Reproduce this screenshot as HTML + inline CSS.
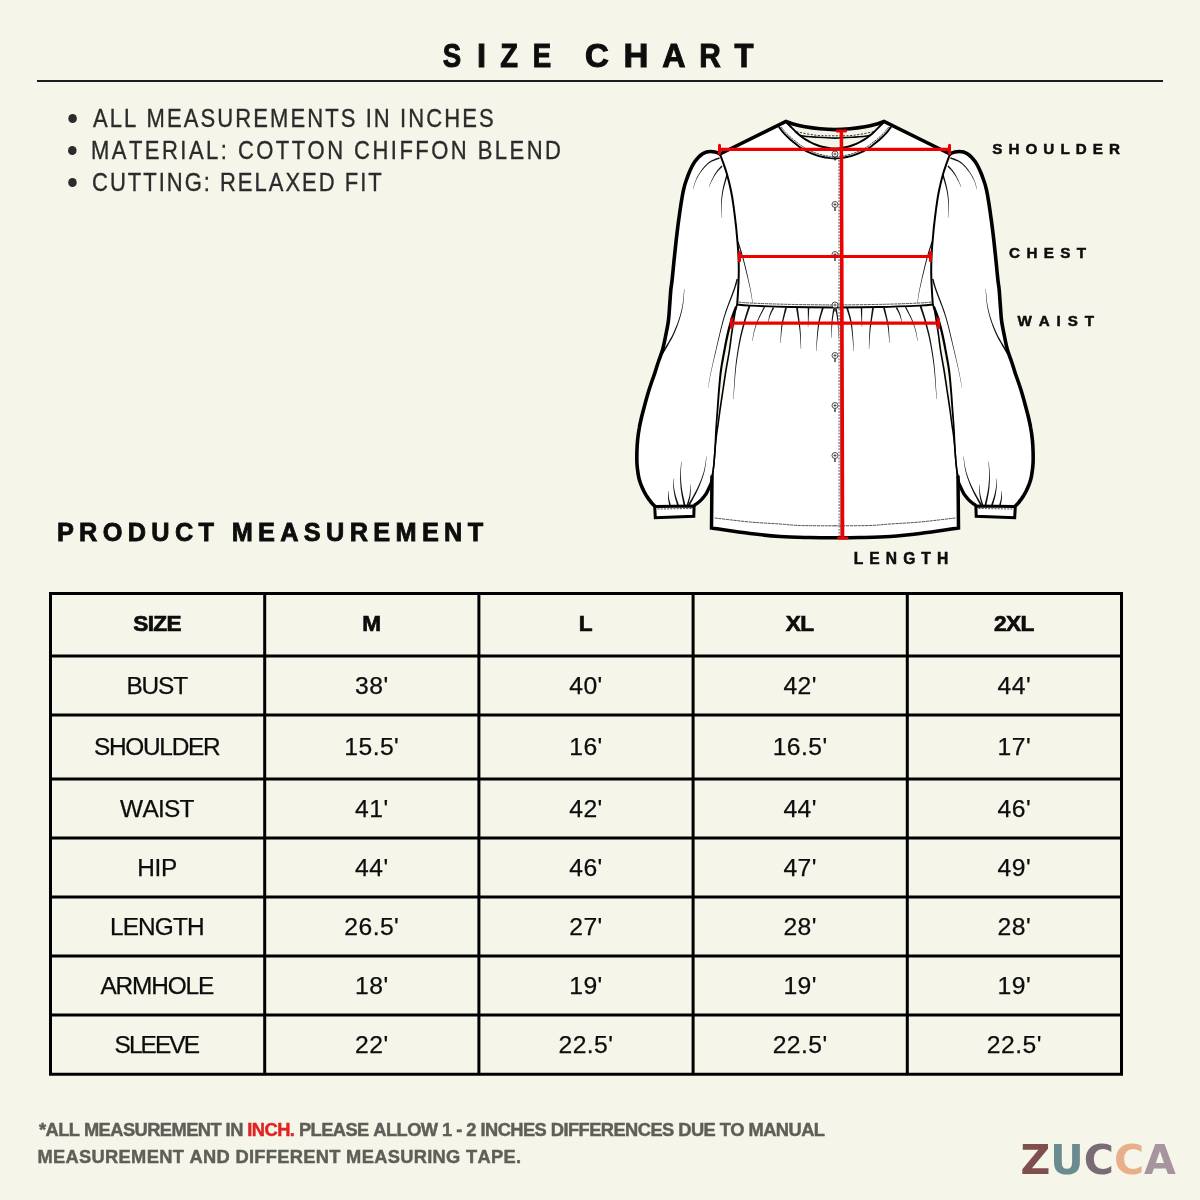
<!DOCTYPE html>
<html lang="en"><head><meta charset="utf-8"><title>Size Chart</title>
<style>
html,body{margin:0;padding:0}
body{width:1200px;height:1200px;position:relative;overflow:hidden;background:#f5f5ea;font-family:"Liberation Sans",sans-serif;font-kerning:none;-webkit-font-smoothing:antialiased}
.t{position:absolute;white-space:nowrap;line-height:1;margin:0}
.rule{position:absolute;left:37px;top:80px;width:1126px;height:2px;background:#1c1c1c}
.bul{list-style:none;margin:0;padding:0}
.bul li{position:absolute;white-space:nowrap;line-height:1;font-size:25.9px;color:#2b2b2b;-webkit-text-stroke:0.35px #2b2b2b}
.bul li i{position:absolute;width:8.6px;height:8.6px;border-radius:50%;background:#2b2b2b}
.red{color:#e02323}
.gar{position:absolute;left:0;top:0}
.logo{font-family:"DejaVu Sans","Liberation Sans",sans-serif;font-weight:700}
.h1{-webkit-text-stroke:1px #0d0d0d}
.h1 span{position:absolute;top:0;display:block}
.h2{-webkit-text-stroke:0.8px #0d0d0d}
.lab{-webkit-text-stroke:0.5px #0d0d0d}
.foot{-webkit-text-stroke:0.45px}
.tbl{position:absolute;left:50.5px;top:593.45px;width:1071px;border-collapse:collapse;border-spacing:0;table-layout:fixed;color:#0d0d0d;-webkit-text-stroke:0.25px #0d0d0d}
.tbl col{width:214.2px}
.tbl th,.tbl td{padding:0;margin:0;border:0;text-align:center;vertical-align:middle;white-space:nowrap;line-height:1;font-weight:400}
.tbl .h{font-weight:700;font-size:22.6px;letter-spacing:-0.6px;-webkit-text-stroke:0.7px #0d0d0d;padding-right:1px}
.tbl .k{font-size:24.4px;padding:1.4px 0 0 0}
.tbl .n{font-size:24.7px;letter-spacing:0.45px;padding:1.4px 0 0 0}
</style></head>
<body>
<svg class="gar" width="1200" height="1200" viewBox="0 0 1200 1200"><g><path d="M720.0,153.8 C719.2,153.5 716.5,152.5 715.0,152.1 C713.5,151.7 712.1,151.5 710.7,151.5 C709.3,151.5 707.8,151.6 706.5,152.0 C705.2,152.4 704.0,152.9 702.7,153.8 C701.4,154.7 699.8,155.9 698.5,157.2 C697.2,158.5 696.0,160.0 694.9,161.6 C693.8,163.2 692.7,165.1 691.7,167.0 C690.7,168.9 689.8,171.1 688.9,173.3 C688.0,175.5 687.2,177.8 686.4,180.0 C685.6,182.2 684.9,184.2 684.3,186.7 C683.6,189.2 683.0,192.1 682.5,195.0 C682.0,197.9 681.5,200.7 681.0,204.0 C680.5,207.3 679.9,211.2 679.4,215.0 C678.9,218.8 678.3,222.5 677.8,226.7 C677.3,230.9 676.7,235.6 676.2,240.0 C675.7,244.4 675.3,248.8 674.8,253.3 C674.3,257.8 673.8,262.6 673.4,267.0 C673.0,271.4 672.5,276.2 672.1,280.0 C671.7,283.8 671.2,285.8 670.8,290.0 C670.4,294.2 670.1,300.0 669.7,305.0 C669.3,310.0 669.1,315.0 668.5,320.0 C667.9,325.0 666.8,330.0 665.8,335.0 C664.8,340.0 663.8,345.5 662.5,350.0 C661.2,354.5 659.5,358.2 658.3,362.0 C657.0,365.8 656.2,368.8 655.0,372.5 C653.8,376.2 652.0,380.8 650.8,384.5 C649.5,388.2 648.6,391.2 647.5,395.0 C646.4,398.8 645.2,403.2 644.2,407.0 C643.2,410.8 642.3,414.0 641.5,417.5 C640.7,421.0 639.9,424.2 639.3,428.0 C638.6,431.8 638.0,436.0 637.6,440.0 C637.2,444.0 637.0,448.2 636.9,452.0 C636.8,455.8 636.8,459.5 636.9,462.5 C637.0,465.5 637.3,467.6 637.6,470.0 C637.9,472.4 638.2,474.5 638.6,476.6 C639.0,478.7 639.6,480.6 640.2,482.5 C640.8,484.4 641.6,486.2 642.3,487.8 C643.0,489.4 643.6,490.7 644.3,492.0 C645.0,493.3 645.7,494.5 646.4,495.6 C647.1,496.7 647.7,497.7 648.4,498.6 C649.1,499.6 649.8,500.5 650.4,501.3 C651.0,502.1 651.7,502.9 652.3,503.6 C652.9,504.3 653.9,505.3 654.2,505.6 L693.9,505.5 L693.9,505.5 C694.4,505.2 695.7,504.5 697.0,503.5 C698.3,502.5 700.0,501.2 701.5,499.6 C703.0,498.1 704.6,496.0 705.8,494.2 C707.0,492.4 707.7,490.8 708.6,488.8 C709.5,486.7 710.5,484.8 711.2,482.0 C711.9,479.2 712.7,473.7 713.0,472.0 L713.0,472.0 C713.2,470.5 713.7,466.7 714.0,463.0 C714.3,459.3 714.7,455.5 715.0,450.0 C715.3,444.5 715.6,436.7 716.0,430.0 C716.4,423.3 717.0,416.7 717.5,410.0 C718.0,403.3 718.4,396.7 719.0,390.0 C719.6,383.3 720.1,376.7 721.0,370.0 C721.9,363.3 723.4,355.8 724.5,350.0 C725.6,344.2 726.6,339.2 727.5,335.0 C728.4,330.8 729.1,328.3 730.0,325.0 C730.9,321.7 732.0,318.1 733.0,315.0 C734.0,311.9 735.8,307.9 736.3,306.5 L737.2,304.5 C737.3,302.4 737.8,296.1 738.0,292.0 C738.2,287.9 738.5,283.7 738.6,280.0 C738.7,276.3 738.8,273.3 738.8,270.0 C738.8,266.7 738.7,263.3 738.6,260.0 C738.5,256.7 738.3,253.3 738.1,250.0 C737.9,246.7 737.6,243.3 737.3,240.0 C737.0,236.7 736.7,233.3 736.4,230.0 C736.1,226.7 735.7,223.7 735.3,220.0 C734.9,216.3 734.3,212.0 733.8,208.0 C733.2,204.0 732.7,200.0 732.0,196.0 C731.3,192.0 730.4,187.8 729.5,184.0 C728.6,180.2 727.7,176.8 726.7,173.3 C725.7,169.8 724.4,166.2 723.3,163.0 C722.2,159.8 720.5,155.5 720.0,154.0 Z" fill="#fff" stroke="none"/></g>
<g transform="matrix(-1 0 0 1 1670 0)"><path d="M720.0,153.8 C719.2,153.5 716.5,152.5 715.0,152.1 C713.5,151.7 712.1,151.5 710.7,151.5 C709.3,151.5 707.8,151.6 706.5,152.0 C705.2,152.4 704.0,152.9 702.7,153.8 C701.4,154.7 699.8,155.9 698.5,157.2 C697.2,158.5 696.0,160.0 694.9,161.6 C693.8,163.2 692.7,165.1 691.7,167.0 C690.7,168.9 689.8,171.1 688.9,173.3 C688.0,175.5 687.2,177.8 686.4,180.0 C685.6,182.2 684.9,184.2 684.3,186.7 C683.6,189.2 683.0,192.1 682.5,195.0 C682.0,197.9 681.5,200.7 681.0,204.0 C680.5,207.3 679.9,211.2 679.4,215.0 C678.9,218.8 678.3,222.5 677.8,226.7 C677.3,230.9 676.7,235.6 676.2,240.0 C675.7,244.4 675.3,248.8 674.8,253.3 C674.3,257.8 673.8,262.6 673.4,267.0 C673.0,271.4 672.5,276.2 672.1,280.0 C671.7,283.8 671.2,285.8 670.8,290.0 C670.4,294.2 670.1,300.0 669.7,305.0 C669.3,310.0 669.1,315.0 668.5,320.0 C667.9,325.0 666.8,330.0 665.8,335.0 C664.8,340.0 663.8,345.5 662.5,350.0 C661.2,354.5 659.5,358.2 658.3,362.0 C657.0,365.8 656.2,368.8 655.0,372.5 C653.8,376.2 652.0,380.8 650.8,384.5 C649.5,388.2 648.6,391.2 647.5,395.0 C646.4,398.8 645.2,403.2 644.2,407.0 C643.2,410.8 642.3,414.0 641.5,417.5 C640.7,421.0 639.9,424.2 639.3,428.0 C638.6,431.8 638.0,436.0 637.6,440.0 C637.2,444.0 637.0,448.2 636.9,452.0 C636.8,455.8 636.8,459.5 636.9,462.5 C637.0,465.5 637.3,467.6 637.6,470.0 C637.9,472.4 638.2,474.5 638.6,476.6 C639.0,478.7 639.6,480.6 640.2,482.5 C640.8,484.4 641.6,486.2 642.3,487.8 C643.0,489.4 643.6,490.7 644.3,492.0 C645.0,493.3 645.7,494.5 646.4,495.6 C647.1,496.7 647.7,497.7 648.4,498.6 C649.1,499.6 649.8,500.5 650.4,501.3 C651.0,502.1 651.7,502.9 652.3,503.6 C652.9,504.3 653.9,505.3 654.2,505.6 L693.9,505.5 L693.9,505.5 C694.4,505.2 695.7,504.5 697.0,503.5 C698.3,502.5 700.0,501.2 701.5,499.6 C703.0,498.1 704.6,496.0 705.8,494.2 C707.0,492.4 707.7,490.8 708.6,488.8 C709.5,486.7 710.5,484.8 711.2,482.0 C711.9,479.2 712.7,473.7 713.0,472.0 L713.0,472.0 C713.2,470.5 713.7,466.7 714.0,463.0 C714.3,459.3 714.7,455.5 715.0,450.0 C715.3,444.5 715.6,436.7 716.0,430.0 C716.4,423.3 717.0,416.7 717.5,410.0 C718.0,403.3 718.4,396.7 719.0,390.0 C719.6,383.3 720.1,376.7 721.0,370.0 C721.9,363.3 723.4,355.8 724.5,350.0 C725.6,344.2 726.6,339.2 727.5,335.0 C728.4,330.8 729.1,328.3 730.0,325.0 C730.9,321.7 732.0,318.1 733.0,315.0 C734.0,311.9 735.8,307.9 736.3,306.5 L737.2,304.5 C737.3,302.4 737.8,296.1 738.0,292.0 C738.2,287.9 738.5,283.7 738.6,280.0 C738.7,276.3 738.8,273.3 738.8,270.0 C738.8,266.7 738.7,263.3 738.6,260.0 C738.5,256.7 738.3,253.3 738.1,250.0 C737.9,246.7 737.6,243.3 737.3,240.0 C737.0,236.7 736.7,233.3 736.4,230.0 C736.1,226.7 735.7,223.7 735.3,220.0 C734.9,216.3 734.3,212.0 733.8,208.0 C733.2,204.0 732.7,200.0 732.0,196.0 C731.3,192.0 730.4,187.8 729.5,184.0 C728.6,180.2 727.7,176.8 726.7,173.3 C725.7,169.8 724.4,166.2 723.3,163.0 C722.2,159.8 720.5,155.5 720.0,154.0 Z" fill="#fff" stroke="none"/></g>
<path d="M786,121.5 L720,154 L720.0,154.0 C720.5,155.5 722.2,159.8 723.3,163.0 C724.4,166.2 725.7,169.8 726.7,173.3 C727.7,176.8 728.6,180.2 729.5,184.0 C730.4,187.8 731.3,192.0 732.0,196.0 C732.7,200.0 733.2,204.0 733.8,208.0 C734.3,212.0 734.9,216.3 735.3,220.0 C735.7,223.7 736.1,226.7 736.4,230.0 C736.7,233.3 737.0,236.7 737.3,240.0 C737.6,243.3 737.9,246.7 738.1,250.0 C738.3,253.3 738.5,256.7 738.6,260.0 C738.7,263.3 738.8,266.7 738.8,270.0 C738.8,273.3 738.7,276.3 738.6,280.0 C738.5,283.7 738.2,287.9 738.0,292.0 C737.8,296.1 737.3,302.4 737.2,304.5 L737.2,304.5 C736.9,305.4 736.1,307.1 735.5,310.0 C734.9,312.9 734.2,317.8 733.5,322.0 C732.8,326.2 732.2,330.3 731.5,335.0 C730.8,339.7 730.4,344.2 729.5,350.0 C728.6,355.8 727.1,363.3 726.0,370.0 C724.9,376.7 724.0,383.3 723.0,390.0 C722.0,396.7 720.8,404.2 720.0,410.0 C719.2,415.8 718.6,420.8 718.0,425.0 C717.4,429.2 717.0,430.8 716.5,435.0 C716.0,439.2 715.4,445.3 715.0,450.0 C714.6,454.7 714.4,458.8 714.0,463.0 C713.6,467.2 712.8,473.0 712.5,475.0 L712,476 L711.5,528 L711.5,528.0 C717.9,528.9 738.6,532.1 750.0,533.5 C761.4,534.9 770.0,535.8 780.0,536.5 C790.0,537.2 800.8,537.3 810.0,537.5 C819.2,537.7 826.7,537.7 835.0,537.7 C843.3,537.7 850.8,537.7 860.0,537.5 C869.2,537.3 880.0,537.2 890.0,536.5 C900.0,535.8 908.6,534.9 920.0,533.5 C931.4,532.1 952.1,528.9 958.5,528.0 L958.5,476 L957.5,475.0 C957.2,473.0 956.4,467.2 956.0,463.0 C955.6,458.8 955.4,454.7 955.0,450.0 C954.6,445.3 954.0,439.2 953.5,435.0 C953.0,430.8 952.6,429.2 952.0,425.0 C951.4,420.8 950.8,415.8 950.0,410.0 C949.2,404.2 948.0,396.7 947.0,390.0 C946.0,383.3 945.1,376.7 944.0,370.0 C942.9,363.3 941.4,355.8 940.5,350.0 C939.6,344.2 939.2,339.7 938.5,335.0 C937.8,330.3 937.2,326.2 936.5,322.0 C935.8,317.8 935.1,312.9 934.5,310.0 C933.9,307.1 933.1,305.4 932.8,304.5 L932.8,304.5 C932.7,302.4 932.2,296.1 932.0,292.0 C931.8,287.9 931.5,283.7 931.4,280.0 C931.3,276.3 931.2,273.3 931.2,270.0 C931.2,266.7 931.3,263.3 931.4,260.0 C931.5,256.7 931.7,253.3 931.9,250.0 C932.1,246.7 932.4,243.3 932.7,240.0 C933.0,236.7 933.3,233.3 933.6,230.0 C933.9,226.7 934.3,223.7 934.7,220.0 C935.1,216.3 935.7,212.0 936.2,208.0 C936.8,204.0 937.3,200.0 938.0,196.0 C938.7,192.0 939.6,187.8 940.5,184.0 C941.4,180.2 942.3,176.8 943.3,173.3 C944.3,169.8 945.6,166.2 946.7,163.0 C947.8,159.8 949.5,155.5 950.0,154.0 L884,121.5 L884.0,121.5 C882.5,122.0 878.2,123.7 875.0,124.6 C871.8,125.5 869.2,126.1 865.0,126.8 C860.8,127.5 855.0,128.3 850.0,128.8 C845.0,129.3 840.0,129.6 835.0,129.6 C830.0,129.6 825.0,129.3 820.0,128.8 C815.0,128.3 809.2,127.5 805.0,126.8 C800.8,126.1 798.2,125.5 795.0,124.6 C791.8,123.7 787.5,122.0 786.0,121.5 Z" fill="#fff" stroke="none"/>
<path d="M786.0,121.5 C787.5,122.0 791.8,123.7 795.0,124.6 C798.2,125.5 800.8,126.1 805.0,126.8 C809.2,127.5 815.0,128.3 820.0,128.8 C825.0,129.3 830.0,129.6 835.0,129.6 C840.0,129.6 845.0,129.3 850.0,128.8 C855.0,128.3 860.8,127.5 865.0,126.8 C869.2,126.1 871.8,125.5 875.0,124.6 C878.2,123.7 882.5,122.0 884.0,121.5 L884.0,122.0 C883.3,122.7 881.8,124.2 880.0,126.0 C878.2,127.8 875.5,130.7 873.3,132.7 C871.1,134.7 868.9,136.4 866.7,138.0 C864.5,139.6 862.2,140.8 860.0,142.0 C857.8,143.2 855.5,144.2 853.3,145.0 C851.1,145.8 848.9,146.5 846.7,147.0 C844.5,147.5 842.0,147.9 840.0,148.2 C838.0,148.5 836.7,148.6 835.0,148.6 C833.3,148.6 832.0,148.5 830.0,148.2 C828.0,147.9 825.5,147.5 823.3,147.0 C821.1,146.5 818.9,145.8 816.7,145.0 C814.5,144.2 812.2,143.2 810.0,142.0 C807.8,140.8 805.5,139.6 803.3,138.0 C801.1,136.4 798.9,134.7 796.7,132.7 C794.5,130.7 791.8,127.8 790.0,126.0 C788.2,124.2 786.7,122.7 786.0,122.0 Z" fill="#f4f4e8" stroke="none"/>
<clipPath id="hc"><path d="M786.0,121.5 C787.5,122.0 791.8,123.7 795.0,124.6 C798.2,125.5 800.8,126.1 805.0,126.8 C809.2,127.5 815.0,128.3 820.0,128.8 C825.0,129.3 830.0,129.6 835.0,129.6 C840.0,129.6 845.0,129.3 850.0,128.8 C855.0,128.3 860.8,127.5 865.0,126.8 C869.2,126.1 871.8,125.5 875.0,124.6 C878.2,123.7 882.5,122.0 884.0,121.5 L884.0,122.0 C883.3,122.7 881.8,124.2 880.0,126.0 C878.2,127.8 875.5,130.7 873.3,132.7 C871.1,134.7 868.9,136.4 866.7,138.0 C864.5,139.6 862.2,140.8 860.0,142.0 C857.8,143.2 855.5,144.2 853.3,145.0 C851.1,145.8 848.9,146.5 846.7,147.0 C844.5,147.5 842.0,147.9 840.0,148.2 C838.0,148.5 836.7,148.6 835.0,148.6 C833.3,148.6 832.0,148.5 830.0,148.2 C828.0,147.9 825.5,147.5 823.3,147.0 C821.1,146.5 818.9,145.8 816.7,145.0 C814.5,144.2 812.2,143.2 810.0,142.0 C807.8,140.8 805.5,139.6 803.3,138.0 C801.1,136.4 798.9,134.7 796.7,132.7 C794.5,130.7 791.8,127.8 790.0,126.0 C788.2,124.2 786.7,122.7 786.0,122.0 Z"/></clipPath>
<g clip-path="url(#hc)">
<path d="M790.0,128.5 C791.1,129.0 792.2,130.6 796.7,131.7 C801.2,132.8 810.3,134.6 816.7,135.3 C823.1,136.0 828.9,135.8 835.0,135.8 C841.1,135.8 846.9,136.0 853.3,135.3 C859.7,134.6 868.8,132.8 873.3,131.7 C877.8,130.6 878.9,129.0 880.0,128.5" fill="none" stroke="#222" stroke-width="0.9" stroke-dasharray="2.2 1.4"/>
<path d="M795.0,133.0 C796.0,133.4 797.7,135.0 801.3,135.7 C804.9,136.4 811.1,136.8 816.7,137.2 C822.3,137.6 828.9,138.1 835.0,138.1 C841.1,138.1 847.7,137.6 853.3,137.2 C858.9,136.8 865.1,136.4 868.7,135.7 C872.3,135.0 874.0,133.4 875.0,133.0" fill="none" stroke="#000" stroke-width="1.6" />
</g>
<g><path d="M719.23,157.30 L718.51,157.59 L717.52,157.94 L716.34,158.37 L715.01,158.86 L713.62,159.42 L712.22,160.04 L710.88,160.74 L709.67,161.50 L708.56,162.34 L707.48,163.25 L706.43,164.23 L705.41,165.26 L704.42,166.34 L703.46,167.45 L702.54,168.59 L701.65,169.73 L700.80,170.91 L699.96,172.15 L699.16,173.43 L698.39,174.73 L697.65,176.04 L696.97,177.34 L696.33,178.63 L695.75,179.89 L695.23,181.19 L694.75,182.56 L694.33,183.96 L693.95,185.32 L693.61,186.61 L693.32,187.77 L693.08,188.73 L692.88,189.47 L693.12,189.53 L693.34,188.81 L693.61,187.84 L693.94,186.70 L694.30,185.43 L694.72,184.08 L695.18,182.71 L695.69,181.37 L696.25,180.11 L696.85,178.89 L697.52,177.63 L698.23,176.36 L698.99,175.09 L699.79,173.82 L700.62,172.59 L701.47,171.40 L702.35,170.27 L703.25,169.17 L704.19,168.08 L705.16,167.01 L706.15,165.99 L707.17,165.01 L708.21,164.10 L709.27,163.25 L710.33,162.50 L711.48,161.82 L712.76,161.21 L714.12,160.65 L715.49,160.14 L716.80,159.70 L717.99,159.31 L719.01,158.98 L719.77,158.70 Z" fill="#111" stroke="none"/><path d="M721.44,165.50 L720.99,166.03 L720.38,166.73 L719.64,167.56 L718.83,168.50 L717.97,169.52 L717.12,170.57 L716.31,171.65 L715.57,172.70 L714.89,173.80 L714.22,174.97 L713.55,176.20 L712.91,177.44 L712.30,178.67 L711.73,179.84 L711.22,180.92 L710.77,181.89 L710.38,182.75 L710.04,183.56 L709.76,184.32 L709.52,185.00 L709.32,185.61 L709.15,186.15 L709.01,186.60 L708.88,186.96 L709.12,187.04 L709.26,186.69 L709.43,186.24 L709.62,185.72 L709.85,185.12 L710.12,184.46 L710.44,183.73 L710.81,182.95 L711.23,182.11 L711.73,181.18 L712.30,180.13 L712.92,178.99 L713.59,177.81 L714.28,176.61 L715.00,175.43 L715.72,174.32 L716.43,173.30 L717.18,172.32 L718.02,171.32 L718.91,170.33 L719.80,169.37 L720.65,168.49 L721.42,167.69 L722.07,167.02 L722.56,166.50 Z" fill="#111" stroke="none"/><path d="M726.28,174.80 L725.97,175.96 L725.55,177.50 L725.04,179.34 L724.48,181.39 L723.91,183.55 L723.36,185.75 L722.87,187.90 L722.48,189.90 L722.17,191.81 L721.89,193.73 L721.65,195.66 L721.44,197.58 L721.27,199.48 L721.14,201.36 L721.05,203.20 L720.99,204.99 L720.99,206.81 L721.06,208.70 L721.19,210.61 L721.34,212.45 L721.50,214.18 L721.66,215.72 L721.79,217.02 L721.88,218.01 L722.12,217.99 L722.07,217.00 L721.98,215.70 L721.86,214.15 L721.75,212.42 L721.65,210.58 L721.58,208.69 L721.56,206.81 L721.61,205.01 L721.72,203.24 L721.86,201.42 L722.05,199.56 L722.27,197.67 L722.53,195.77 L722.82,193.87 L723.15,191.97 L723.52,190.10 L723.96,188.15 L724.50,186.04 L725.11,183.88 L725.73,181.74 L726.35,179.72 L726.91,177.89 L727.38,176.36 L727.72,175.20 Z" fill="#111" stroke="none"/><path d="M684.15,288.99 L684.03,290.23 L683.89,291.89 L683.73,293.86 L683.54,296.04 L683.32,298.35 L683.06,300.67 L682.77,302.90 L682.44,304.95 L682.08,306.86 L681.68,308.75 L681.24,310.61 L680.78,312.47 L680.27,314.31 L679.74,316.15 L679.16,318.00 L678.56,319.86 L677.90,321.74 L677.20,323.65 L676.45,325.57 L675.68,327.48 L674.88,329.37 L674.06,331.22 L673.25,333.02 L672.43,334.73 L671.60,336.38 L670.72,338.01 L669.82,339.60 L668.91,341.15 L668.01,342.63 L667.15,344.04 L666.33,345.38 L665.59,346.61 L664.90,347.76 L664.23,348.86 L663.60,349.88 L663.01,350.82 L662.47,351.67 L661.99,352.42 L661.59,353.05 L661.28,353.56 L662.72,354.44 L663.03,353.94 L663.42,353.30 L663.88,352.54 L664.40,351.68 L664.97,350.72 L665.59,349.67 L666.24,348.56 L666.91,347.39 L667.63,346.14 L668.41,344.80 L669.25,343.37 L670.12,341.85 L671.01,340.28 L671.89,338.64 L672.75,336.97 L673.57,335.27 L674.36,333.52 L675.15,331.70 L675.93,329.82 L676.70,327.89 L677.44,325.95 L678.15,323.99 L678.82,322.06 L679.44,320.14 L680.02,318.26 L680.56,316.39 L681.06,314.53 L681.53,312.66 L681.96,310.78 L682.36,308.89 L682.73,306.99 L683.06,305.05 L683.35,302.98 L683.59,300.72 L683.80,298.39 L683.98,296.08 L684.13,293.89 L684.25,291.91 L684.36,290.25 L684.45,289.01 Z" fill="#111" stroke="none"/><path d="M736.58,278.79 L736.36,279.59 L736.09,280.57 L735.78,281.73 L735.42,283.05 L735.00,284.53 L734.52,286.15 L733.98,287.90 L733.35,289.77 L732.61,291.87 L731.74,294.25 L730.77,296.83 L729.74,299.53 L728.71,302.25 L727.71,304.93 L726.78,307.48 L725.97,309.82 L725.28,311.87 L724.69,313.70 L724.16,315.39 L723.66,317.04 L723.18,318.72 L722.68,320.53 L722.15,322.56 L721.54,324.88 L720.87,327.56 L720.16,330.51 L719.41,333.68 L718.64,336.97 L717.87,340.32 L717.11,343.64 L716.38,346.87 L715.69,349.93 L715.02,352.86 L714.35,355.79 L713.70,358.67 L713.06,361.51 L712.45,364.27 L711.87,366.94 L711.32,369.51 L710.81,371.96 L710.33,374.36 L709.88,376.77 L709.45,379.11 L709.05,381.35 L708.69,383.41 L708.38,385.25 L708.11,386.79 L707.90,387.98 L708.10,388.02 L708.32,386.83 L708.61,385.29 L708.94,383.46 L709.32,381.40 L709.75,379.17 L710.20,376.83 L710.68,374.43 L711.19,372.04 L711.73,369.60 L712.30,367.04 L712.92,364.37 L713.56,361.62 L714.23,358.79 L714.91,355.92 L715.61,353.00 L716.31,350.07 L717.04,347.03 L717.82,343.81 L718.61,340.49 L719.42,337.15 L720.22,333.87 L721.01,330.72 L721.76,327.78 L722.46,325.12 L723.08,322.81 L723.64,320.80 L724.15,319.00 L724.65,317.34 L725.16,315.71 L725.71,314.03 L726.32,312.22 L727.03,310.18 L727.86,307.87 L728.82,305.35 L729.84,302.69 L730.91,299.97 L731.96,297.29 L732.96,294.72 L733.87,292.34 L734.65,290.23 L735.30,288.34 L735.87,286.57 L736.38,284.94 L736.82,283.45 L737.19,282.12 L737.52,280.96 L737.79,279.99 L738.02,279.21 Z" fill="#111" stroke="none"/><path d="M737.38,242.19 L737.85,243.68 L738.47,245.59 L739.21,247.86 L740.04,250.42 L740.92,253.20 L741.81,256.12 L742.70,259.12 L743.53,262.12 L744.38,265.33 L745.28,268.89 L746.21,272.66 L747.14,276.52 L748.04,280.32 L748.88,283.93 L749.63,287.22 L750.25,290.05 L750.75,292.47 L751.15,294.65 L751.47,296.57 L751.72,298.27 L751.92,299.76 L752.08,301.04 L752.22,302.12 L752.35,303.02 L752.65,302.98 L752.53,302.08 L752.41,301.00 L752.27,299.71 L752.09,298.23 L751.87,296.52 L751.58,294.57 L751.21,292.39 L750.75,289.95 L750.17,287.10 L749.48,283.80 L748.70,280.17 L747.86,276.36 L746.99,272.48 L746.11,268.69 L745.26,265.11 L744.47,261.88 L743.68,258.84 L742.84,255.82 L741.98,252.87 L741.15,250.08 L740.36,247.50 L739.66,245.22 L739.07,243.30 L738.62,241.81 Z" fill="#111" stroke="none"/><path d="M748.60,305.70 L748.26,306.74 L747.82,308.08 L747.30,309.67 L746.71,311.47 L746.08,313.42 L745.44,315.49 L744.81,317.63 L744.21,319.77 L743.61,321.96 L743.00,324.25 L742.38,326.64 L741.75,329.13 L741.12,331.70 L740.51,334.35 L739.92,337.08 L739.36,339.87 L738.82,342.77 L738.29,345.79 L737.77,348.91 L737.27,352.10 L736.80,355.33 L736.35,358.56 L735.94,361.78 L735.57,364.95 L735.24,368.19 L734.94,371.59 L734.69,375.05 L734.46,378.48 L734.26,381.78 L734.08,384.86 L733.92,387.62 L733.77,389.98 L733.65,391.94 L733.56,393.57 L733.50,394.93 L733.45,396.05 L733.42,396.98 L733.39,397.75 L733.37,398.41 L733.35,398.99 L733.65,399.01 L733.68,398.42 L733.72,397.76 L733.75,396.99 L733.80,396.07 L733.86,394.95 L733.95,393.60 L734.07,391.97 L734.23,390.02 L734.41,387.66 L734.62,384.89 L734.85,381.82 L735.10,378.52 L735.39,375.11 L735.70,371.66 L736.05,368.28 L736.43,365.05 L736.86,361.90 L737.32,358.70 L737.82,355.48 L738.35,352.27 L738.91,349.11 L739.47,346.00 L740.05,343.00 L740.64,340.13 L741.24,337.36 L741.87,334.67 L742.52,332.04 L743.19,329.50 L743.86,327.04 L744.52,324.67 L745.17,322.39 L745.79,320.23 L746.43,318.11 L747.09,316.01 L747.76,313.97 L748.42,312.03 L749.03,310.25 L749.58,308.67 L750.05,307.34 L750.40,306.30 Z" fill="#111" stroke="none"/><path d="M763.97,306.73 L763.46,307.74 L762.77,309.10 L761.95,310.71 L761.04,312.51 L760.10,314.40 L759.18,316.31 L758.34,318.15 L757.61,319.84 L756.99,321.42 L756.41,323.01 L755.87,324.59 L755.37,326.15 L754.90,327.67 L754.48,329.15 L754.09,330.58 L753.74,331.94 L753.44,333.28 L753.19,334.63 L752.98,335.96 L752.81,337.22 L752.66,338.39 L752.54,339.43 L752.44,340.30 L752.35,340.98 L752.65,341.02 L752.76,340.35 L752.88,339.47 L753.02,338.44 L753.19,337.28 L753.40,336.02 L753.64,334.71 L753.92,333.38 L754.26,332.06 L754.63,330.73 L755.05,329.32 L755.51,327.86 L756.01,326.35 L756.54,324.82 L757.12,323.27 L757.73,321.71 L758.39,320.16 L759.14,318.52 L760.02,316.72 L760.98,314.85 L761.96,312.99 L762.91,311.22 L763.78,309.62 L764.50,308.28 L765.03,307.27 Z" fill="#111" stroke="none"/><path d="M772.78,307.15 L772.53,307.73 L772.17,308.50 L771.75,309.43 L771.29,310.46 L770.80,311.56 L770.34,312.68 L769.91,313.79 L769.55,314.84 L769.25,315.91 L768.97,317.05 L768.72,318.23 L768.50,319.40 L768.30,320.51 L768.12,321.51 L767.97,322.34 L767.85,322.97 L768.15,323.03 L768.31,322.42 L768.53,321.59 L768.78,320.62 L769.07,319.53 L769.38,318.40 L769.72,317.25 L770.08,316.16 L770.45,315.16 L770.87,314.18 L771.37,313.14 L771.91,312.08 L772.46,311.04 L773.00,310.06 L773.50,309.17 L773.91,308.42 L774.22,307.85 Z" fill="#111" stroke="none"/><path d="M785.13,307.78 L784.83,309.09 L784.42,310.82 L783.92,312.89 L783.38,315.19 L782.83,317.64 L782.30,320.14 L781.84,322.60 L781.48,324.92 L781.20,327.27 L780.99,329.81 L780.82,332.44 L780.68,335.04 L780.58,337.51 L780.49,339.73 L780.42,341.59 L780.35,342.99 L780.65,343.01 L780.78,341.62 L780.93,339.76 L781.11,337.54 L781.32,335.08 L781.56,332.50 L781.84,329.89 L782.16,327.38 L782.52,325.08 L782.98,322.82 L783.54,320.42 L784.16,317.96 L784.81,315.56 L785.45,313.28 L786.03,311.24 L786.52,309.52 L786.87,308.22 Z" fill="#111" stroke="none"/><path d="M796.11,308.13 L796.39,309.84 L796.77,312.14 L797.23,314.88 L797.73,317.91 L798.23,321.09 L798.72,324.27 L799.16,327.31 L799.51,330.05 L799.78,332.68 L800.02,335.43 L800.22,338.20 L800.39,340.89 L800.53,343.41 L800.66,345.66 L800.76,347.56 L800.85,349.01 L801.15,348.99 L801.11,347.55 L801.08,345.65 L801.04,343.39 L800.99,340.86 L800.91,338.16 L800.81,335.38 L800.67,332.61 L800.49,329.95 L800.24,327.18 L799.92,324.12 L799.54,320.91 L799.15,317.71 L798.76,314.66 L798.40,311.90 L798.10,309.59 L797.89,307.87 Z" fill="#111" stroke="none"/><path d="M807.75,307.99 L807.76,308.76 L807.77,309.81 L807.79,311.05 L807.81,312.43 L807.83,313.87 L807.84,315.33 L807.86,316.72 L807.87,317.99 L807.87,319.22 L807.87,320.52 L807.87,321.83 L807.87,323.12 L807.86,324.32 L807.86,325.40 L807.85,326.31 L807.85,326.99 L808.15,327.01 L808.20,326.32 L808.26,325.41 L808.33,324.34 L808.41,323.13 L808.49,321.85 L808.58,320.54 L808.66,319.25 L808.73,318.01 L808.81,316.74 L808.88,315.35 L808.96,313.89 L809.03,312.45 L809.10,311.07 L809.16,309.83 L809.21,308.79 L809.25,308.01 Z" fill="#111" stroke="none"/><path d="M822.14,307.25 L821.84,308.34 L821.42,309.77 L820.92,311.48 L820.37,313.40 L819.80,315.46 L819.26,317.61 L818.77,319.77 L818.37,321.88 L818.04,324.04 L817.76,326.34 L817.51,328.74 L817.30,331.17 L817.11,333.57 L816.94,335.87 L816.80,338.03 L816.66,339.97 L816.56,341.76 L816.48,343.48 L816.43,345.11 L816.40,346.62 L816.38,347.98 L816.37,349.18 L816.36,350.19 L816.35,350.99 L816.65,351.01 L816.69,350.20 L816.74,349.19 L816.79,347.99 L816.85,346.63 L816.93,345.13 L817.03,343.52 L817.17,341.81 L817.34,340.03 L817.53,338.09 L817.75,335.95 L818.00,333.65 L818.27,331.27 L818.56,328.86 L818.89,326.49 L819.24,324.22 L819.63,322.12 L820.10,320.07 L820.65,317.97 L821.26,315.87 L821.88,313.85 L822.49,311.96 L823.05,310.28 L823.52,308.85 L823.86,307.75 Z" fill="#111" stroke="none"/><path d="M833.26,308.38 L833.12,309.40 L832.91,310.75 L832.67,312.35 L832.41,314.15 L832.14,316.07 L831.89,318.06 L831.68,320.04 L831.53,321.96 L831.43,323.96 L831.37,326.18 L831.34,328.51 L831.33,330.84 L831.34,333.06 L831.35,335.06 L831.35,336.75 L831.35,338.00 L831.65,338.00 L831.70,336.75 L831.76,335.07 L831.83,333.07 L831.92,330.85 L832.02,328.53 L832.15,326.21 L832.30,324.01 L832.47,322.04 L832.70,320.16 L832.99,318.21 L833.31,316.25 L833.66,314.35 L833.99,312.58 L834.30,310.99 L834.55,309.64 L834.74,308.62 Z" fill="#111" stroke="none"/><path d="M670.78,504.82 L670.63,504.28 L670.41,503.56 L670.16,502.72 L669.89,501.79 L669.61,500.80 L669.35,499.81 L669.13,498.84 L668.97,497.95 L668.86,497.05 L668.78,496.08 L668.73,495.07 L668.70,494.07 L668.68,493.12 L668.67,492.27 L668.66,491.54 L668.65,491.00 L668.35,491.00 L668.32,491.54 L668.26,492.25 L668.19,493.10 L668.12,494.06 L668.05,495.07 L668.01,496.09 L668.00,497.10 L668.03,498.05 L668.12,499.00 L668.25,500.02 L668.42,501.06 L668.61,502.09 L668.80,503.06 L668.98,503.92 L669.12,504.64 L669.22,505.18 Z" fill="#111" stroke="none"/><path d="M678.86,504.73 L678.59,503.96 L678.23,502.94 L677.80,501.73 L677.33,500.39 L676.85,498.98 L676.38,497.54 L675.95,496.15 L675.60,494.86 L675.29,493.61 L675.00,492.32 L674.73,491.01 L674.49,489.71 L674.27,488.44 L674.09,487.21 L673.94,486.05 L673.83,484.98 L673.77,483.98 L673.77,482.99 L673.81,482.04 L673.88,481.15 L673.96,480.33 L674.04,479.61 L674.11,479.00 L674.15,478.52 L673.85,478.48 L673.79,478.96 L673.68,479.56 L673.56,480.28 L673.43,481.10 L673.32,482.00 L673.22,482.96 L673.17,483.98 L673.17,485.02 L673.22,486.11 L673.31,487.30 L673.43,488.55 L673.57,489.85 L673.75,491.18 L673.94,492.52 L674.16,493.84 L674.40,495.14 L674.70,496.48 L675.05,497.92 L675.45,499.40 L675.86,500.86 L676.26,502.23 L676.62,503.47 L676.92,504.50 L677.14,505.27 Z" fill="#111" stroke="none"/><path d="M685.38,504.81 L685.11,503.66 L684.75,502.12 L684.31,500.30 L683.83,498.27 L683.34,496.14 L682.88,493.97 L682.46,491.87 L682.13,489.91 L681.87,488.05 L681.63,486.16 L681.43,484.26 L681.26,482.37 L681.12,480.49 L681.01,478.63 L680.93,476.80 L680.88,475.00 L680.89,473.16 L680.95,471.22 L681.05,469.26 L681.19,467.34 L681.33,465.53 L681.46,463.91 L681.58,462.55 L681.65,461.51 L681.35,461.49 L681.24,462.52 L681.08,463.87 L680.89,465.49 L680.69,467.29 L680.49,469.21 L680.32,471.18 L680.19,473.14 L680.12,475.00 L680.10,476.81 L680.12,478.66 L680.17,480.54 L680.24,482.44 L680.35,484.35 L680.49,486.27 L680.66,488.18 L680.87,490.09 L681.14,492.09 L681.48,494.23 L681.88,496.43 L682.29,498.60 L682.71,500.65 L683.08,502.49 L683.40,504.03 L683.62,505.19 Z" fill="#111" stroke="none"/><path d="M688.27,505.21 L688.45,504.44 L688.71,503.42 L689.02,502.20 L689.35,500.83 L689.69,499.38 L690.01,497.90 L690.28,496.44 L690.47,495.07 L690.59,493.68 L690.67,492.19 L690.70,490.65 L690.70,489.13 L690.69,487.70 L690.67,486.40 L690.65,485.32 L690.65,484.50 L690.35,484.50 L690.30,485.31 L690.25,486.40 L690.19,487.69 L690.11,489.12 L690.01,490.62 L689.89,492.14 L689.73,493.60 L689.53,494.93 L689.26,496.24 L688.91,497.64 L688.51,499.07 L688.08,500.48 L687.67,501.81 L687.28,503.01 L686.96,504.02 L686.73,504.79 Z" fill="#111" stroke="none"/><path d="M689.79,505.43 L690.49,504.10 L691.43,502.33 L692.56,500.22 L693.81,497.87 L695.10,495.40 L696.37,492.90 L697.55,490.48 L698.57,488.26 L699.46,486.19 L700.31,484.14 L701.11,482.10 L701.87,480.08 L702.58,478.08 L703.23,476.08 L703.83,474.09 L704.36,472.10 L704.83,470.01 L705.24,467.78 L705.58,465.51 L705.87,463.28 L706.12,461.18 L706.32,459.30 L706.50,457.71 L706.65,456.52 L706.35,456.48 L706.17,457.67 L705.94,459.25 L705.68,461.13 L705.38,463.22 L705.03,465.43 L704.62,467.67 L704.16,469.86 L703.64,471.90 L703.05,473.85 L702.40,475.81 L701.70,477.76 L700.94,479.73 L700.13,481.71 L699.28,483.70 L698.38,485.71 L697.43,487.74 L696.37,489.90 L695.13,492.26 L693.80,494.70 L692.44,497.13 L691.13,499.43 L689.94,501.51 L688.94,503.26 L688.21,504.57 Z" fill="#111" stroke="none"/><path d="M657.0,508.6 L692.0,508.0" fill="none" stroke="#222" stroke-width="0.8" stroke-linecap="round" stroke-dasharray="2 1.2"/><path d="M715.0,518.0 C720.8,518.7 739.2,521.0 750.0,522.0 C760.8,523.0 771.7,523.4 780.0,524.0 C788.3,524.6 790.8,525.2 800.0,525.5 C809.2,525.8 829.2,525.8 835.0,525.8" fill="none" stroke="#222" stroke-width="0.8" stroke-linecap="round" stroke-dasharray="2.4 1.4"/><path d="M739.0,302.0 C740.8,302.2 741.5,302.6 750.0,303.0 C758.5,303.4 775.8,304.1 790.0,304.4 C804.2,304.7 827.5,304.9 835.0,305.0" fill="none" stroke="#222" stroke-width="0.8" stroke-linecap="round" stroke-dasharray="2.4 1.4"/><path d="M781.5,127.3 C782.1,128.1 783.6,130.2 785.3,132.0 C787.0,133.8 789.4,136.1 791.5,138.0 C793.6,139.9 796.3,141.9 798.0,143.2 C799.7,144.5 799.8,144.7 801.5,145.8 C803.2,146.9 805.7,148.7 808.3,150.0 C810.9,151.3 814.7,152.7 817.3,153.6 C819.9,154.5 821.6,154.8 823.8,155.3 C825.9,155.8 828.3,156.2 830.2,156.4 C832.1,156.7 834.2,156.7 835.0,156.8" fill="none" stroke="#222" stroke-width="0.9" stroke-linecap="round" stroke-dasharray="1.6 1.4"/></g>
<g transform="matrix(-1 0 0 1 1670 0)"><path d="M719.23,157.30 L718.51,157.59 L717.52,157.94 L716.34,158.37 L715.01,158.86 L713.62,159.42 L712.22,160.04 L710.88,160.74 L709.67,161.50 L708.56,162.34 L707.48,163.25 L706.43,164.23 L705.41,165.26 L704.42,166.34 L703.46,167.45 L702.54,168.59 L701.65,169.73 L700.80,170.91 L699.96,172.15 L699.16,173.43 L698.39,174.73 L697.65,176.04 L696.97,177.34 L696.33,178.63 L695.75,179.89 L695.23,181.19 L694.75,182.56 L694.33,183.96 L693.95,185.32 L693.61,186.61 L693.32,187.77 L693.08,188.73 L692.88,189.47 L693.12,189.53 L693.34,188.81 L693.61,187.84 L693.94,186.70 L694.30,185.43 L694.72,184.08 L695.18,182.71 L695.69,181.37 L696.25,180.11 L696.85,178.89 L697.52,177.63 L698.23,176.36 L698.99,175.09 L699.79,173.82 L700.62,172.59 L701.47,171.40 L702.35,170.27 L703.25,169.17 L704.19,168.08 L705.16,167.01 L706.15,165.99 L707.17,165.01 L708.21,164.10 L709.27,163.25 L710.33,162.50 L711.48,161.82 L712.76,161.21 L714.12,160.65 L715.49,160.14 L716.80,159.70 L717.99,159.31 L719.01,158.98 L719.77,158.70 Z" fill="#111" stroke="none"/><path d="M721.44,165.50 L720.99,166.03 L720.38,166.73 L719.64,167.56 L718.83,168.50 L717.97,169.52 L717.12,170.57 L716.31,171.65 L715.57,172.70 L714.89,173.80 L714.22,174.97 L713.55,176.20 L712.91,177.44 L712.30,178.67 L711.73,179.84 L711.22,180.92 L710.77,181.89 L710.38,182.75 L710.04,183.56 L709.76,184.32 L709.52,185.00 L709.32,185.61 L709.15,186.15 L709.01,186.60 L708.88,186.96 L709.12,187.04 L709.26,186.69 L709.43,186.24 L709.62,185.72 L709.85,185.12 L710.12,184.46 L710.44,183.73 L710.81,182.95 L711.23,182.11 L711.73,181.18 L712.30,180.13 L712.92,178.99 L713.59,177.81 L714.28,176.61 L715.00,175.43 L715.72,174.32 L716.43,173.30 L717.18,172.32 L718.02,171.32 L718.91,170.33 L719.80,169.37 L720.65,168.49 L721.42,167.69 L722.07,167.02 L722.56,166.50 Z" fill="#111" stroke="none"/><path d="M726.28,174.80 L725.97,175.96 L725.55,177.50 L725.04,179.34 L724.48,181.39 L723.91,183.55 L723.36,185.75 L722.87,187.90 L722.48,189.90 L722.17,191.81 L721.89,193.73 L721.65,195.66 L721.44,197.58 L721.27,199.48 L721.14,201.36 L721.05,203.20 L720.99,204.99 L720.99,206.81 L721.06,208.70 L721.19,210.61 L721.34,212.45 L721.50,214.18 L721.66,215.72 L721.79,217.02 L721.88,218.01 L722.12,217.99 L722.07,217.00 L721.98,215.70 L721.86,214.15 L721.75,212.42 L721.65,210.58 L721.58,208.69 L721.56,206.81 L721.61,205.01 L721.72,203.24 L721.86,201.42 L722.05,199.56 L722.27,197.67 L722.53,195.77 L722.82,193.87 L723.15,191.97 L723.52,190.10 L723.96,188.15 L724.50,186.04 L725.11,183.88 L725.73,181.74 L726.35,179.72 L726.91,177.89 L727.38,176.36 L727.72,175.20 Z" fill="#111" stroke="none"/><path d="M684.15,288.99 L684.03,290.23 L683.89,291.89 L683.73,293.86 L683.54,296.04 L683.32,298.35 L683.06,300.67 L682.77,302.90 L682.44,304.95 L682.08,306.86 L681.68,308.75 L681.24,310.61 L680.78,312.47 L680.27,314.31 L679.74,316.15 L679.16,318.00 L678.56,319.86 L677.90,321.74 L677.20,323.65 L676.45,325.57 L675.68,327.48 L674.88,329.37 L674.06,331.22 L673.25,333.02 L672.43,334.73 L671.60,336.38 L670.72,338.01 L669.82,339.60 L668.91,341.15 L668.01,342.63 L667.15,344.04 L666.33,345.38 L665.59,346.61 L664.90,347.76 L664.23,348.86 L663.60,349.88 L663.01,350.82 L662.47,351.67 L661.99,352.42 L661.59,353.05 L661.28,353.56 L662.72,354.44 L663.03,353.94 L663.42,353.30 L663.88,352.54 L664.40,351.68 L664.97,350.72 L665.59,349.67 L666.24,348.56 L666.91,347.39 L667.63,346.14 L668.41,344.80 L669.25,343.37 L670.12,341.85 L671.01,340.28 L671.89,338.64 L672.75,336.97 L673.57,335.27 L674.36,333.52 L675.15,331.70 L675.93,329.82 L676.70,327.89 L677.44,325.95 L678.15,323.99 L678.82,322.06 L679.44,320.14 L680.02,318.26 L680.56,316.39 L681.06,314.53 L681.53,312.66 L681.96,310.78 L682.36,308.89 L682.73,306.99 L683.06,305.05 L683.35,302.98 L683.59,300.72 L683.80,298.39 L683.98,296.08 L684.13,293.89 L684.25,291.91 L684.36,290.25 L684.45,289.01 Z" fill="#111" stroke="none"/><path d="M736.58,278.79 L736.36,279.59 L736.09,280.57 L735.78,281.73 L735.42,283.05 L735.00,284.53 L734.52,286.15 L733.98,287.90 L733.35,289.77 L732.61,291.87 L731.74,294.25 L730.77,296.83 L729.74,299.53 L728.71,302.25 L727.71,304.93 L726.78,307.48 L725.97,309.82 L725.28,311.87 L724.69,313.70 L724.16,315.39 L723.66,317.04 L723.18,318.72 L722.68,320.53 L722.15,322.56 L721.54,324.88 L720.87,327.56 L720.16,330.51 L719.41,333.68 L718.64,336.97 L717.87,340.32 L717.11,343.64 L716.38,346.87 L715.69,349.93 L715.02,352.86 L714.35,355.79 L713.70,358.67 L713.06,361.51 L712.45,364.27 L711.87,366.94 L711.32,369.51 L710.81,371.96 L710.33,374.36 L709.88,376.77 L709.45,379.11 L709.05,381.35 L708.69,383.41 L708.38,385.25 L708.11,386.79 L707.90,387.98 L708.10,388.02 L708.32,386.83 L708.61,385.29 L708.94,383.46 L709.32,381.40 L709.75,379.17 L710.20,376.83 L710.68,374.43 L711.19,372.04 L711.73,369.60 L712.30,367.04 L712.92,364.37 L713.56,361.62 L714.23,358.79 L714.91,355.92 L715.61,353.00 L716.31,350.07 L717.04,347.03 L717.82,343.81 L718.61,340.49 L719.42,337.15 L720.22,333.87 L721.01,330.72 L721.76,327.78 L722.46,325.12 L723.08,322.81 L723.64,320.80 L724.15,319.00 L724.65,317.34 L725.16,315.71 L725.71,314.03 L726.32,312.22 L727.03,310.18 L727.86,307.87 L728.82,305.35 L729.84,302.69 L730.91,299.97 L731.96,297.29 L732.96,294.72 L733.87,292.34 L734.65,290.23 L735.30,288.34 L735.87,286.57 L736.38,284.94 L736.82,283.45 L737.19,282.12 L737.52,280.96 L737.79,279.99 L738.02,279.21 Z" fill="#111" stroke="none"/><path d="M737.38,242.19 L737.85,243.68 L738.47,245.59 L739.21,247.86 L740.04,250.42 L740.92,253.20 L741.81,256.12 L742.70,259.12 L743.53,262.12 L744.38,265.33 L745.28,268.89 L746.21,272.66 L747.14,276.52 L748.04,280.32 L748.88,283.93 L749.63,287.22 L750.25,290.05 L750.75,292.47 L751.15,294.65 L751.47,296.57 L751.72,298.27 L751.92,299.76 L752.08,301.04 L752.22,302.12 L752.35,303.02 L752.65,302.98 L752.53,302.08 L752.41,301.00 L752.27,299.71 L752.09,298.23 L751.87,296.52 L751.58,294.57 L751.21,292.39 L750.75,289.95 L750.17,287.10 L749.48,283.80 L748.70,280.17 L747.86,276.36 L746.99,272.48 L746.11,268.69 L745.26,265.11 L744.47,261.88 L743.68,258.84 L742.84,255.82 L741.98,252.87 L741.15,250.08 L740.36,247.50 L739.66,245.22 L739.07,243.30 L738.62,241.81 Z" fill="#111" stroke="none"/><path d="M748.60,305.70 L748.26,306.74 L747.82,308.08 L747.30,309.67 L746.71,311.47 L746.08,313.42 L745.44,315.49 L744.81,317.63 L744.21,319.77 L743.61,321.96 L743.00,324.25 L742.38,326.64 L741.75,329.13 L741.12,331.70 L740.51,334.35 L739.92,337.08 L739.36,339.87 L738.82,342.77 L738.29,345.79 L737.77,348.91 L737.27,352.10 L736.80,355.33 L736.35,358.56 L735.94,361.78 L735.57,364.95 L735.24,368.19 L734.94,371.59 L734.69,375.05 L734.46,378.48 L734.26,381.78 L734.08,384.86 L733.92,387.62 L733.77,389.98 L733.65,391.94 L733.56,393.57 L733.50,394.93 L733.45,396.05 L733.42,396.98 L733.39,397.75 L733.37,398.41 L733.35,398.99 L733.65,399.01 L733.68,398.42 L733.72,397.76 L733.75,396.99 L733.80,396.07 L733.86,394.95 L733.95,393.60 L734.07,391.97 L734.23,390.02 L734.41,387.66 L734.62,384.89 L734.85,381.82 L735.10,378.52 L735.39,375.11 L735.70,371.66 L736.05,368.28 L736.43,365.05 L736.86,361.90 L737.32,358.70 L737.82,355.48 L738.35,352.27 L738.91,349.11 L739.47,346.00 L740.05,343.00 L740.64,340.13 L741.24,337.36 L741.87,334.67 L742.52,332.04 L743.19,329.50 L743.86,327.04 L744.52,324.67 L745.17,322.39 L745.79,320.23 L746.43,318.11 L747.09,316.01 L747.76,313.97 L748.42,312.03 L749.03,310.25 L749.58,308.67 L750.05,307.34 L750.40,306.30 Z" fill="#111" stroke="none"/><path d="M763.97,306.73 L763.46,307.74 L762.77,309.10 L761.95,310.71 L761.04,312.51 L760.10,314.40 L759.18,316.31 L758.34,318.15 L757.61,319.84 L756.99,321.42 L756.41,323.01 L755.87,324.59 L755.37,326.15 L754.90,327.67 L754.48,329.15 L754.09,330.58 L753.74,331.94 L753.44,333.28 L753.19,334.63 L752.98,335.96 L752.81,337.22 L752.66,338.39 L752.54,339.43 L752.44,340.30 L752.35,340.98 L752.65,341.02 L752.76,340.35 L752.88,339.47 L753.02,338.44 L753.19,337.28 L753.40,336.02 L753.64,334.71 L753.92,333.38 L754.26,332.06 L754.63,330.73 L755.05,329.32 L755.51,327.86 L756.01,326.35 L756.54,324.82 L757.12,323.27 L757.73,321.71 L758.39,320.16 L759.14,318.52 L760.02,316.72 L760.98,314.85 L761.96,312.99 L762.91,311.22 L763.78,309.62 L764.50,308.28 L765.03,307.27 Z" fill="#111" stroke="none"/><path d="M772.78,307.15 L772.53,307.73 L772.17,308.50 L771.75,309.43 L771.29,310.46 L770.80,311.56 L770.34,312.68 L769.91,313.79 L769.55,314.84 L769.25,315.91 L768.97,317.05 L768.72,318.23 L768.50,319.40 L768.30,320.51 L768.12,321.51 L767.97,322.34 L767.85,322.97 L768.15,323.03 L768.31,322.42 L768.53,321.59 L768.78,320.62 L769.07,319.53 L769.38,318.40 L769.72,317.25 L770.08,316.16 L770.45,315.16 L770.87,314.18 L771.37,313.14 L771.91,312.08 L772.46,311.04 L773.00,310.06 L773.50,309.17 L773.91,308.42 L774.22,307.85 Z" fill="#111" stroke="none"/><path d="M785.13,307.78 L784.83,309.09 L784.42,310.82 L783.92,312.89 L783.38,315.19 L782.83,317.64 L782.30,320.14 L781.84,322.60 L781.48,324.92 L781.20,327.27 L780.99,329.81 L780.82,332.44 L780.68,335.04 L780.58,337.51 L780.49,339.73 L780.42,341.59 L780.35,342.99 L780.65,343.01 L780.78,341.62 L780.93,339.76 L781.11,337.54 L781.32,335.08 L781.56,332.50 L781.84,329.89 L782.16,327.38 L782.52,325.08 L782.98,322.82 L783.54,320.42 L784.16,317.96 L784.81,315.56 L785.45,313.28 L786.03,311.24 L786.52,309.52 L786.87,308.22 Z" fill="#111" stroke="none"/><path d="M796.11,308.13 L796.39,309.84 L796.77,312.14 L797.23,314.88 L797.73,317.91 L798.23,321.09 L798.72,324.27 L799.16,327.31 L799.51,330.05 L799.78,332.68 L800.02,335.43 L800.22,338.20 L800.39,340.89 L800.53,343.41 L800.66,345.66 L800.76,347.56 L800.85,349.01 L801.15,348.99 L801.11,347.55 L801.08,345.65 L801.04,343.39 L800.99,340.86 L800.91,338.16 L800.81,335.38 L800.67,332.61 L800.49,329.95 L800.24,327.18 L799.92,324.12 L799.54,320.91 L799.15,317.71 L798.76,314.66 L798.40,311.90 L798.10,309.59 L797.89,307.87 Z" fill="#111" stroke="none"/><path d="M807.75,307.99 L807.76,308.76 L807.77,309.81 L807.79,311.05 L807.81,312.43 L807.83,313.87 L807.84,315.33 L807.86,316.72 L807.87,317.99 L807.87,319.22 L807.87,320.52 L807.87,321.83 L807.87,323.12 L807.86,324.32 L807.86,325.40 L807.85,326.31 L807.85,326.99 L808.15,327.01 L808.20,326.32 L808.26,325.41 L808.33,324.34 L808.41,323.13 L808.49,321.85 L808.58,320.54 L808.66,319.25 L808.73,318.01 L808.81,316.74 L808.88,315.35 L808.96,313.89 L809.03,312.45 L809.10,311.07 L809.16,309.83 L809.21,308.79 L809.25,308.01 Z" fill="#111" stroke="none"/><path d="M822.14,307.25 L821.84,308.34 L821.42,309.77 L820.92,311.48 L820.37,313.40 L819.80,315.46 L819.26,317.61 L818.77,319.77 L818.37,321.88 L818.04,324.04 L817.76,326.34 L817.51,328.74 L817.30,331.17 L817.11,333.57 L816.94,335.87 L816.80,338.03 L816.66,339.97 L816.56,341.76 L816.48,343.48 L816.43,345.11 L816.40,346.62 L816.38,347.98 L816.37,349.18 L816.36,350.19 L816.35,350.99 L816.65,351.01 L816.69,350.20 L816.74,349.19 L816.79,347.99 L816.85,346.63 L816.93,345.13 L817.03,343.52 L817.17,341.81 L817.34,340.03 L817.53,338.09 L817.75,335.95 L818.00,333.65 L818.27,331.27 L818.56,328.86 L818.89,326.49 L819.24,324.22 L819.63,322.12 L820.10,320.07 L820.65,317.97 L821.26,315.87 L821.88,313.85 L822.49,311.96 L823.05,310.28 L823.52,308.85 L823.86,307.75 Z" fill="#111" stroke="none"/><path d="M833.26,308.38 L833.12,309.40 L832.91,310.75 L832.67,312.35 L832.41,314.15 L832.14,316.07 L831.89,318.06 L831.68,320.04 L831.53,321.96 L831.43,323.96 L831.37,326.18 L831.34,328.51 L831.33,330.84 L831.34,333.06 L831.35,335.06 L831.35,336.75 L831.35,338.00 L831.65,338.00 L831.70,336.75 L831.76,335.07 L831.83,333.07 L831.92,330.85 L832.02,328.53 L832.15,326.21 L832.30,324.01 L832.47,322.04 L832.70,320.16 L832.99,318.21 L833.31,316.25 L833.66,314.35 L833.99,312.58 L834.30,310.99 L834.55,309.64 L834.74,308.62 Z" fill="#111" stroke="none"/><path d="M670.78,504.82 L670.63,504.28 L670.41,503.56 L670.16,502.72 L669.89,501.79 L669.61,500.80 L669.35,499.81 L669.13,498.84 L668.97,497.95 L668.86,497.05 L668.78,496.08 L668.73,495.07 L668.70,494.07 L668.68,493.12 L668.67,492.27 L668.66,491.54 L668.65,491.00 L668.35,491.00 L668.32,491.54 L668.26,492.25 L668.19,493.10 L668.12,494.06 L668.05,495.07 L668.01,496.09 L668.00,497.10 L668.03,498.05 L668.12,499.00 L668.25,500.02 L668.42,501.06 L668.61,502.09 L668.80,503.06 L668.98,503.92 L669.12,504.64 L669.22,505.18 Z" fill="#111" stroke="none"/><path d="M678.86,504.73 L678.59,503.96 L678.23,502.94 L677.80,501.73 L677.33,500.39 L676.85,498.98 L676.38,497.54 L675.95,496.15 L675.60,494.86 L675.29,493.61 L675.00,492.32 L674.73,491.01 L674.49,489.71 L674.27,488.44 L674.09,487.21 L673.94,486.05 L673.83,484.98 L673.77,483.98 L673.77,482.99 L673.81,482.04 L673.88,481.15 L673.96,480.33 L674.04,479.61 L674.11,479.00 L674.15,478.52 L673.85,478.48 L673.79,478.96 L673.68,479.56 L673.56,480.28 L673.43,481.10 L673.32,482.00 L673.22,482.96 L673.17,483.98 L673.17,485.02 L673.22,486.11 L673.31,487.30 L673.43,488.55 L673.57,489.85 L673.75,491.18 L673.94,492.52 L674.16,493.84 L674.40,495.14 L674.70,496.48 L675.05,497.92 L675.45,499.40 L675.86,500.86 L676.26,502.23 L676.62,503.47 L676.92,504.50 L677.14,505.27 Z" fill="#111" stroke="none"/><path d="M685.38,504.81 L685.11,503.66 L684.75,502.12 L684.31,500.30 L683.83,498.27 L683.34,496.14 L682.88,493.97 L682.46,491.87 L682.13,489.91 L681.87,488.05 L681.63,486.16 L681.43,484.26 L681.26,482.37 L681.12,480.49 L681.01,478.63 L680.93,476.80 L680.88,475.00 L680.89,473.16 L680.95,471.22 L681.05,469.26 L681.19,467.34 L681.33,465.53 L681.46,463.91 L681.58,462.55 L681.65,461.51 L681.35,461.49 L681.24,462.52 L681.08,463.87 L680.89,465.49 L680.69,467.29 L680.49,469.21 L680.32,471.18 L680.19,473.14 L680.12,475.00 L680.10,476.81 L680.12,478.66 L680.17,480.54 L680.24,482.44 L680.35,484.35 L680.49,486.27 L680.66,488.18 L680.87,490.09 L681.14,492.09 L681.48,494.23 L681.88,496.43 L682.29,498.60 L682.71,500.65 L683.08,502.49 L683.40,504.03 L683.62,505.19 Z" fill="#111" stroke="none"/><path d="M688.27,505.21 L688.45,504.44 L688.71,503.42 L689.02,502.20 L689.35,500.83 L689.69,499.38 L690.01,497.90 L690.28,496.44 L690.47,495.07 L690.59,493.68 L690.67,492.19 L690.70,490.65 L690.70,489.13 L690.69,487.70 L690.67,486.40 L690.65,485.32 L690.65,484.50 L690.35,484.50 L690.30,485.31 L690.25,486.40 L690.19,487.69 L690.11,489.12 L690.01,490.62 L689.89,492.14 L689.73,493.60 L689.53,494.93 L689.26,496.24 L688.91,497.64 L688.51,499.07 L688.08,500.48 L687.67,501.81 L687.28,503.01 L686.96,504.02 L686.73,504.79 Z" fill="#111" stroke="none"/><path d="M689.79,505.43 L690.49,504.10 L691.43,502.33 L692.56,500.22 L693.81,497.87 L695.10,495.40 L696.37,492.90 L697.55,490.48 L698.57,488.26 L699.46,486.19 L700.31,484.14 L701.11,482.10 L701.87,480.08 L702.58,478.08 L703.23,476.08 L703.83,474.09 L704.36,472.10 L704.83,470.01 L705.24,467.78 L705.58,465.51 L705.87,463.28 L706.12,461.18 L706.32,459.30 L706.50,457.71 L706.65,456.52 L706.35,456.48 L706.17,457.67 L705.94,459.25 L705.68,461.13 L705.38,463.22 L705.03,465.43 L704.62,467.67 L704.16,469.86 L703.64,471.90 L703.05,473.85 L702.40,475.81 L701.70,477.76 L700.94,479.73 L700.13,481.71 L699.28,483.70 L698.38,485.71 L697.43,487.74 L696.37,489.90 L695.13,492.26 L693.80,494.70 L692.44,497.13 L691.13,499.43 L689.94,501.51 L688.94,503.26 L688.21,504.57 Z" fill="#111" stroke="none"/><path d="M657.0,508.6 L692.0,508.0" fill="none" stroke="#222" stroke-width="0.8" stroke-linecap="round" stroke-dasharray="2 1.2"/><path d="M715.0,518.0 C720.8,518.7 739.2,521.0 750.0,522.0 C760.8,523.0 771.7,523.4 780.0,524.0 C788.3,524.6 790.8,525.2 800.0,525.5 C809.2,525.8 829.2,525.8 835.0,525.8" fill="none" stroke="#222" stroke-width="0.8" stroke-linecap="round" stroke-dasharray="2.4 1.4"/><path d="M739.0,302.0 C740.8,302.2 741.5,302.6 750.0,303.0 C758.5,303.4 775.8,304.1 790.0,304.4 C804.2,304.7 827.5,304.9 835.0,305.0" fill="none" stroke="#222" stroke-width="0.8" stroke-linecap="round" stroke-dasharray="2.4 1.4"/><path d="M781.5,127.3 C782.1,128.1 783.6,130.2 785.3,132.0 C787.0,133.8 789.4,136.1 791.5,138.0 C793.6,139.9 796.3,141.9 798.0,143.2 C799.7,144.5 799.8,144.7 801.5,145.8 C803.2,146.9 805.7,148.7 808.3,150.0 C810.9,151.3 814.7,152.7 817.3,153.6 C819.9,154.5 821.6,154.8 823.8,155.3 C825.9,155.8 828.3,156.2 830.2,156.4 C832.1,156.7 834.2,156.7 835.0,156.8" fill="none" stroke="#222" stroke-width="0.9" stroke-linecap="round" stroke-dasharray="1.6 1.4"/></g>
<g><path d="M720.0,154.0 C720.5,155.5 722.2,159.8 723.3,163.0 C724.4,166.2 725.7,169.8 726.7,173.3 C727.7,176.8 728.6,180.2 729.5,184.0 C730.4,187.8 731.3,192.0 732.0,196.0 C732.7,200.0 733.2,204.0 733.8,208.0 C734.3,212.0 734.9,216.3 735.3,220.0 C735.7,223.7 736.1,226.7 736.4,230.0 C736.7,233.3 737.0,236.7 737.3,240.0 C737.6,243.3 737.9,246.7 738.1,250.0 C738.3,253.3 738.5,256.7 738.6,260.0 C738.7,263.3 738.8,266.7 738.8,270.0 C738.8,273.3 738.7,276.3 738.6,280.0 C738.5,283.7 738.2,287.9 738.0,292.0 C737.8,296.1 737.3,302.4 737.2,304.5" fill="none" stroke="#000" stroke-width="2.0" stroke-linejoin="round" stroke-linecap="round"/><path d="M735.14,306.04 L734.89,306.68 L734.55,307.52 L734.14,308.53 L733.69,309.67 L733.21,310.88 L732.73,312.13 L732.27,313.39 L731.85,314.60 L731.45,315.80 L731.06,317.03 L730.68,318.29 L730.30,319.56 L729.92,320.85 L729.56,322.14 L729.20,323.42 L728.86,324.69 L728.53,325.91 L728.21,327.08 L727.91,328.23 L727.62,329.40 L727.32,330.61 L727.02,331.88 L726.70,333.25 L726.37,334.75 L726.03,336.36 L725.68,338.05 L725.32,339.81 L724.96,341.65 L724.58,343.57 L724.20,345.57 L723.81,347.65 L723.42,349.80 L723.00,352.06 L722.56,354.45 L722.10,356.94 L721.64,359.50 L721.18,362.10 L720.74,364.71 L720.34,367.31 L719.97,369.86 L719.66,372.37 L719.37,374.89 L719.11,377.40 L718.88,379.91 L718.66,382.41 L718.45,384.92 L718.24,387.42 L718.03,389.92 L717.83,392.42 L717.64,394.93 L717.46,397.43 L717.28,399.93 L717.11,402.43 L716.95,404.93 L716.77,407.43 L716.60,409.93 L716.42,412.43 L716.23,414.93 L716.04,417.43 L715.85,419.93 L715.67,422.43 L715.49,424.94 L715.32,427.44 L715.16,429.95 L715.02,432.50 L714.89,435.12 L714.78,437.77 L714.67,440.40 L714.56,442.98 L714.45,445.45 L714.34,447.79 L714.23,449.95 L714.11,451.94 L713.99,453.78 L713.87,455.51 L713.75,457.13 L713.63,458.66 L713.51,460.13 L713.39,461.55 L713.27,462.93 L713.15,464.31 L713.01,465.67 L712.87,466.98 L712.73,468.23 L712.60,469.38 L712.48,470.39 L712.38,471.25 L712.30,471.92 L713.70,472.08 L713.77,471.42 L713.88,470.56 L714.01,469.54 L714.14,468.39 L714.29,467.14 L714.44,465.82 L714.59,464.45 L714.73,463.07 L714.86,461.68 L714.99,460.26 L715.12,458.79 L715.25,457.25 L715.38,455.62 L715.51,453.89 L715.64,452.04 L715.77,450.05 L715.90,447.88 L716.02,445.53 L716.15,443.05 L716.27,440.47 L716.40,437.85 L716.53,435.21 L716.68,432.59 L716.84,430.05 L717.01,427.56 L717.19,425.06 L717.39,422.57 L717.59,420.07 L717.79,417.57 L718.00,415.07 L718.20,412.57 L718.40,410.07 L718.59,407.57 L718.78,405.07 L718.97,402.57 L719.15,400.07 L719.34,397.57 L719.54,395.07 L719.75,392.58 L719.97,390.08 L720.19,387.58 L720.41,385.08 L720.64,382.59 L720.87,380.09 L721.12,377.60 L721.40,375.11 L721.69,372.63 L722.03,370.14 L722.40,367.62 L722.82,365.05 L723.27,362.46 L723.74,359.88 L724.22,357.33 L724.69,354.85 L725.15,352.46 L725.58,350.20 L725.99,348.06 L726.39,345.99 L726.79,344.00 L727.17,342.10 L727.55,340.27 L727.91,338.51 L728.27,336.84 L728.63,335.25 L728.96,333.77 L729.28,332.41 L729.58,331.16 L729.88,329.97 L730.18,328.83 L730.49,327.69 L730.81,326.53 L731.14,325.31 L731.50,324.06 L731.86,322.79 L732.23,321.52 L732.60,320.25 L732.99,318.99 L733.37,317.76 L733.76,316.56 L734.15,315.40 L734.57,314.23 L735.03,313.01 L735.51,311.78 L735.99,310.58 L736.44,309.46 L736.85,308.46 L737.20,307.61 L737.46,306.96 Z" fill="#000" stroke="none"/><path d="M737.2,304.5 C736.9,305.4 736.1,307.1 735.5,310.0 C734.9,312.9 734.2,317.8 733.5,322.0 C732.8,326.2 732.2,330.3 731.5,335.0 C730.8,339.7 730.4,344.2 729.5,350.0 C728.6,355.8 727.1,363.3 726.0,370.0 C724.9,376.7 724.0,383.3 723.0,390.0 C722.0,396.7 720.8,404.2 720.0,410.0 C719.2,415.8 718.6,420.8 718.0,425.0 C717.4,429.2 717.0,430.8 716.5,435.0 C716.0,439.2 715.4,445.3 715.0,450.0 C714.6,454.7 714.4,458.8 714.0,463.0 C713.6,467.2 712.8,473.0 712.5,475.0" fill="none" stroke="#000" stroke-width="1.6" stroke-linejoin="round" stroke-linecap="round"/><path d="M737.5,304.5 C739.6,304.7 741.2,305.2 750.0,305.6 C758.8,306.0 775.8,306.7 790.0,307.0 C804.2,307.3 827.5,307.4 835.0,307.5" fill="none" stroke="#000" stroke-width="1.9" stroke-linejoin="round" stroke-linecap="round"/><path d="M786.0,122.0 C786.7,122.7 788.2,124.2 790.0,126.0 C791.8,127.8 794.5,130.7 796.7,132.7 C798.9,134.7 801.1,136.4 803.3,138.0 C805.5,139.6 807.8,140.8 810.0,142.0 C812.2,143.2 814.5,144.2 816.7,145.0 C818.9,145.8 821.1,146.5 823.3,147.0 C825.5,147.5 828.0,147.9 830.0,148.2 C832.0,148.5 834.2,148.5 835.0,148.6" fill="none" stroke="#000" stroke-width="1.9" stroke-linejoin="round" stroke-linecap="round"/><path d="M779.3,127.3 C780.0,128.2 781.5,130.7 783.3,132.7 C785.1,134.7 787.8,137.3 790.0,139.3 C792.2,141.3 795.0,143.4 796.7,144.7 C798.4,146.0 798.2,146.1 800.0,147.3 C801.8,148.5 804.5,150.4 807.3,151.7 C810.1,153.0 814.0,154.4 816.7,155.3 C819.4,156.2 821.1,156.5 823.3,157.0 C825.5,157.5 828.0,157.8 830.0,158.1 C832.0,158.3 834.2,158.4 835.0,158.5" fill="none" stroke="#000" stroke-width="1.9" stroke-linejoin="round" stroke-linecap="round"/></g>
<g transform="matrix(-1 0 0 1 1670 0)"><path d="M720.0,154.0 C720.5,155.5 722.2,159.8 723.3,163.0 C724.4,166.2 725.7,169.8 726.7,173.3 C727.7,176.8 728.6,180.2 729.5,184.0 C730.4,187.8 731.3,192.0 732.0,196.0 C732.7,200.0 733.2,204.0 733.8,208.0 C734.3,212.0 734.9,216.3 735.3,220.0 C735.7,223.7 736.1,226.7 736.4,230.0 C736.7,233.3 737.0,236.7 737.3,240.0 C737.6,243.3 737.9,246.7 738.1,250.0 C738.3,253.3 738.5,256.7 738.6,260.0 C738.7,263.3 738.8,266.7 738.8,270.0 C738.8,273.3 738.7,276.3 738.6,280.0 C738.5,283.7 738.2,287.9 738.0,292.0 C737.8,296.1 737.3,302.4 737.2,304.5" fill="none" stroke="#000" stroke-width="2.0" stroke-linejoin="round" stroke-linecap="round"/><path d="M735.14,306.04 L734.89,306.68 L734.55,307.52 L734.14,308.53 L733.69,309.67 L733.21,310.88 L732.73,312.13 L732.27,313.39 L731.85,314.60 L731.45,315.80 L731.06,317.03 L730.68,318.29 L730.30,319.56 L729.92,320.85 L729.56,322.14 L729.20,323.42 L728.86,324.69 L728.53,325.91 L728.21,327.08 L727.91,328.23 L727.62,329.40 L727.32,330.61 L727.02,331.88 L726.70,333.25 L726.37,334.75 L726.03,336.36 L725.68,338.05 L725.32,339.81 L724.96,341.65 L724.58,343.57 L724.20,345.57 L723.81,347.65 L723.42,349.80 L723.00,352.06 L722.56,354.45 L722.10,356.94 L721.64,359.50 L721.18,362.10 L720.74,364.71 L720.34,367.31 L719.97,369.86 L719.66,372.37 L719.37,374.89 L719.11,377.40 L718.88,379.91 L718.66,382.41 L718.45,384.92 L718.24,387.42 L718.03,389.92 L717.83,392.42 L717.64,394.93 L717.46,397.43 L717.28,399.93 L717.11,402.43 L716.95,404.93 L716.77,407.43 L716.60,409.93 L716.42,412.43 L716.23,414.93 L716.04,417.43 L715.85,419.93 L715.67,422.43 L715.49,424.94 L715.32,427.44 L715.16,429.95 L715.02,432.50 L714.89,435.12 L714.78,437.77 L714.67,440.40 L714.56,442.98 L714.45,445.45 L714.34,447.79 L714.23,449.95 L714.11,451.94 L713.99,453.78 L713.87,455.51 L713.75,457.13 L713.63,458.66 L713.51,460.13 L713.39,461.55 L713.27,462.93 L713.15,464.31 L713.01,465.67 L712.87,466.98 L712.73,468.23 L712.60,469.38 L712.48,470.39 L712.38,471.25 L712.30,471.92 L713.70,472.08 L713.77,471.42 L713.88,470.56 L714.01,469.54 L714.14,468.39 L714.29,467.14 L714.44,465.82 L714.59,464.45 L714.73,463.07 L714.86,461.68 L714.99,460.26 L715.12,458.79 L715.25,457.25 L715.38,455.62 L715.51,453.89 L715.64,452.04 L715.77,450.05 L715.90,447.88 L716.02,445.53 L716.15,443.05 L716.27,440.47 L716.40,437.85 L716.53,435.21 L716.68,432.59 L716.84,430.05 L717.01,427.56 L717.19,425.06 L717.39,422.57 L717.59,420.07 L717.79,417.57 L718.00,415.07 L718.20,412.57 L718.40,410.07 L718.59,407.57 L718.78,405.07 L718.97,402.57 L719.15,400.07 L719.34,397.57 L719.54,395.07 L719.75,392.58 L719.97,390.08 L720.19,387.58 L720.41,385.08 L720.64,382.59 L720.87,380.09 L721.12,377.60 L721.40,375.11 L721.69,372.63 L722.03,370.14 L722.40,367.62 L722.82,365.05 L723.27,362.46 L723.74,359.88 L724.22,357.33 L724.69,354.85 L725.15,352.46 L725.58,350.20 L725.99,348.06 L726.39,345.99 L726.79,344.00 L727.17,342.10 L727.55,340.27 L727.91,338.51 L728.27,336.84 L728.63,335.25 L728.96,333.77 L729.28,332.41 L729.58,331.16 L729.88,329.97 L730.18,328.83 L730.49,327.69 L730.81,326.53 L731.14,325.31 L731.50,324.06 L731.86,322.79 L732.23,321.52 L732.60,320.25 L732.99,318.99 L733.37,317.76 L733.76,316.56 L734.15,315.40 L734.57,314.23 L735.03,313.01 L735.51,311.78 L735.99,310.58 L736.44,309.46 L736.85,308.46 L737.20,307.61 L737.46,306.96 Z" fill="#000" stroke="none"/><path d="M737.2,304.5 C736.9,305.4 736.1,307.1 735.5,310.0 C734.9,312.9 734.2,317.8 733.5,322.0 C732.8,326.2 732.2,330.3 731.5,335.0 C730.8,339.7 730.4,344.2 729.5,350.0 C728.6,355.8 727.1,363.3 726.0,370.0 C724.9,376.7 724.0,383.3 723.0,390.0 C722.0,396.7 720.8,404.2 720.0,410.0 C719.2,415.8 718.6,420.8 718.0,425.0 C717.4,429.2 717.0,430.8 716.5,435.0 C716.0,439.2 715.4,445.3 715.0,450.0 C714.6,454.7 714.4,458.8 714.0,463.0 C713.6,467.2 712.8,473.0 712.5,475.0" fill="none" stroke="#000" stroke-width="1.6" stroke-linejoin="round" stroke-linecap="round"/><path d="M737.5,304.5 C739.6,304.7 741.2,305.2 750.0,305.6 C758.8,306.0 775.8,306.7 790.0,307.0 C804.2,307.3 827.5,307.4 835.0,307.5" fill="none" stroke="#000" stroke-width="1.9" stroke-linejoin="round" stroke-linecap="round"/><path d="M786.0,122.0 C786.7,122.7 788.2,124.2 790.0,126.0 C791.8,127.8 794.5,130.7 796.7,132.7 C798.9,134.7 801.1,136.4 803.3,138.0 C805.5,139.6 807.8,140.8 810.0,142.0 C812.2,143.2 814.5,144.2 816.7,145.0 C818.9,145.8 821.1,146.5 823.3,147.0 C825.5,147.5 828.0,147.9 830.0,148.2 C832.0,148.5 834.2,148.5 835.0,148.6" fill="none" stroke="#000" stroke-width="1.9" stroke-linejoin="round" stroke-linecap="round"/><path d="M779.3,127.3 C780.0,128.2 781.5,130.7 783.3,132.7 C785.1,134.7 787.8,137.3 790.0,139.3 C792.2,141.3 795.0,143.4 796.7,144.7 C798.4,146.0 798.2,146.1 800.0,147.3 C801.8,148.5 804.5,150.4 807.3,151.7 C810.1,153.0 814.0,154.4 816.7,155.3 C819.4,156.2 821.1,156.5 823.3,157.0 C825.5,157.5 828.0,157.8 830.0,158.1 C832.0,158.3 834.2,158.4 835.0,158.5" fill="none" stroke="#000" stroke-width="1.9" stroke-linejoin="round" stroke-linecap="round"/></g>
<g><path d="M720.0,153.8 C719.2,153.5 716.5,152.5 715.0,152.1 C713.5,151.7 712.1,151.5 710.7,151.5 C709.3,151.5 707.8,151.6 706.5,152.0 C705.2,152.4 704.0,152.9 702.7,153.8 C701.4,154.7 699.8,155.9 698.5,157.2 C697.2,158.5 696.0,160.0 694.9,161.6 C693.8,163.2 692.7,165.1 691.7,167.0 C690.7,168.9 689.8,171.1 688.9,173.3 C688.0,175.5 687.2,177.8 686.4,180.0 C685.6,182.2 684.9,184.2 684.3,186.7 C683.6,189.2 683.0,192.1 682.5,195.0 C682.0,197.9 681.5,200.7 681.0,204.0 C680.5,207.3 679.9,211.2 679.4,215.0 C678.9,218.8 678.3,222.5 677.8,226.7 C677.3,230.9 676.7,235.6 676.2,240.0 C675.7,244.4 675.3,248.8 674.8,253.3 C674.3,257.8 673.8,262.6 673.4,267.0 C673.0,271.4 672.5,276.2 672.1,280.0 C671.7,283.8 671.2,285.8 670.8,290.0 C670.4,294.2 670.1,300.0 669.7,305.0 C669.3,310.0 669.1,315.0 668.5,320.0 C667.9,325.0 666.8,330.0 665.8,335.0 C664.8,340.0 663.8,345.5 662.5,350.0 C661.2,354.5 659.5,358.2 658.3,362.0 C657.0,365.8 656.2,368.8 655.0,372.5 C653.8,376.2 652.0,380.8 650.8,384.5 C649.5,388.2 648.6,391.2 647.5,395.0 C646.4,398.8 645.2,403.2 644.2,407.0 C643.2,410.8 642.3,414.0 641.5,417.5 C640.7,421.0 639.9,424.2 639.3,428.0 C638.6,431.8 638.0,436.0 637.6,440.0 C637.2,444.0 637.0,448.2 636.9,452.0 C636.8,455.8 636.8,459.5 636.9,462.5 C637.0,465.5 637.3,467.6 637.6,470.0 C637.9,472.4 638.2,474.5 638.6,476.6 C639.0,478.7 639.6,480.6 640.2,482.5 C640.8,484.4 641.6,486.2 642.3,487.8 C643.0,489.4 643.6,490.7 644.3,492.0 C645.0,493.3 645.7,494.5 646.4,495.6 C647.1,496.7 647.7,497.7 648.4,498.6 C649.1,499.6 649.8,500.5 650.4,501.3 C651.0,502.1 651.7,502.9 652.3,503.6 C652.9,504.3 653.9,505.3 654.2,505.6" fill="none" stroke="#000" stroke-width="3.6" stroke-linecap="round" stroke-linejoin="round"/><path d="M712.11,471.85 L711.95,472.64 L711.73,473.72 L711.48,475.00 L711.19,476.40 L710.89,477.85 L710.57,479.27 L710.25,480.57 L709.94,481.67 L709.63,482.62 L709.30,483.50 L708.96,484.32 L708.61,485.11 L708.25,485.86 L707.89,486.61 L707.52,487.35 L707.14,488.10 L706.78,488.83 L706.44,489.52 L706.11,490.17 L705.79,490.80 L705.47,491.42 L705.14,492.03 L704.78,492.65 L704.38,493.27 L703.95,493.92 L703.47,494.59 L702.97,495.27 L702.44,495.95 L701.90,496.61 L701.36,497.26 L700.81,497.87 L700.29,498.45 L699.76,498.98 L699.22,499.50 L698.66,500.00 L698.10,500.49 L697.54,500.95 L697.00,501.39 L696.47,501.81 L695.99,502.18 L695.56,502.51 L695.13,502.81 L694.71,503.08 L694.31,503.33 L693.93,503.56 L693.59,503.76 L693.28,503.94 L693.04,504.09 L694.76,506.91 L694.98,506.77 L695.26,506.61 L695.62,506.40 L696.03,506.16 L696.49,505.87 L696.98,505.55 L697.49,505.20 L698.01,504.82 L698.52,504.42 L699.07,504.00 L699.64,503.53 L700.25,503.04 L700.87,502.51 L701.49,501.95 L702.11,501.36 L702.71,500.75 L703.30,500.12 L703.89,499.46 L704.48,498.76 L705.07,498.05 L705.64,497.32 L706.20,496.58 L706.72,495.85 L707.22,495.13 L707.67,494.41 L708.08,493.71 L708.47,493.01 L708.83,492.32 L709.16,491.62 L709.46,490.89 L709.75,490.16 L710.06,489.40 L710.36,488.63 L710.68,487.85 L711.00,487.05 L711.31,486.21 L711.62,485.33 L711.92,484.40 L712.20,483.40 L712.46,482.33 L712.70,481.11 L712.93,479.72 L713.14,478.25 L713.33,476.76 L713.51,475.32 L713.66,474.03 L713.79,472.94 L713.89,472.15 Z" fill="#000" stroke="none"/><path d="M654.7,506.5 L694.1,505.9 L693.8,516.3 L655.3,517.7 Z" fill="#fff" stroke="#000" stroke-width="3" stroke-linejoin="miter"/></g>
<g transform="matrix(-1 0 0 1 1670 0)"><path d="M720.0,153.8 C719.2,153.5 716.5,152.5 715.0,152.1 C713.5,151.7 712.1,151.5 710.7,151.5 C709.3,151.5 707.8,151.6 706.5,152.0 C705.2,152.4 704.0,152.9 702.7,153.8 C701.4,154.7 699.8,155.9 698.5,157.2 C697.2,158.5 696.0,160.0 694.9,161.6 C693.8,163.2 692.7,165.1 691.7,167.0 C690.7,168.9 689.8,171.1 688.9,173.3 C688.0,175.5 687.2,177.8 686.4,180.0 C685.6,182.2 684.9,184.2 684.3,186.7 C683.6,189.2 683.0,192.1 682.5,195.0 C682.0,197.9 681.5,200.7 681.0,204.0 C680.5,207.3 679.9,211.2 679.4,215.0 C678.9,218.8 678.3,222.5 677.8,226.7 C677.3,230.9 676.7,235.6 676.2,240.0 C675.7,244.4 675.3,248.8 674.8,253.3 C674.3,257.8 673.8,262.6 673.4,267.0 C673.0,271.4 672.5,276.2 672.1,280.0 C671.7,283.8 671.2,285.8 670.8,290.0 C670.4,294.2 670.1,300.0 669.7,305.0 C669.3,310.0 669.1,315.0 668.5,320.0 C667.9,325.0 666.8,330.0 665.8,335.0 C664.8,340.0 663.8,345.5 662.5,350.0 C661.2,354.5 659.5,358.2 658.3,362.0 C657.0,365.8 656.2,368.8 655.0,372.5 C653.8,376.2 652.0,380.8 650.8,384.5 C649.5,388.2 648.6,391.2 647.5,395.0 C646.4,398.8 645.2,403.2 644.2,407.0 C643.2,410.8 642.3,414.0 641.5,417.5 C640.7,421.0 639.9,424.2 639.3,428.0 C638.6,431.8 638.0,436.0 637.6,440.0 C637.2,444.0 637.0,448.2 636.9,452.0 C636.8,455.8 636.8,459.5 636.9,462.5 C637.0,465.5 637.3,467.6 637.6,470.0 C637.9,472.4 638.2,474.5 638.6,476.6 C639.0,478.7 639.6,480.6 640.2,482.5 C640.8,484.4 641.6,486.2 642.3,487.8 C643.0,489.4 643.6,490.7 644.3,492.0 C645.0,493.3 645.7,494.5 646.4,495.6 C647.1,496.7 647.7,497.7 648.4,498.6 C649.1,499.6 649.8,500.5 650.4,501.3 C651.0,502.1 651.7,502.9 652.3,503.6 C652.9,504.3 653.9,505.3 654.2,505.6" fill="none" stroke="#000" stroke-width="3.6" stroke-linecap="round" stroke-linejoin="round"/><path d="M712.11,471.85 L711.95,472.64 L711.73,473.72 L711.48,475.00 L711.19,476.40 L710.89,477.85 L710.57,479.27 L710.25,480.57 L709.94,481.67 L709.63,482.62 L709.30,483.50 L708.96,484.32 L708.61,485.11 L708.25,485.86 L707.89,486.61 L707.52,487.35 L707.14,488.10 L706.78,488.83 L706.44,489.52 L706.11,490.17 L705.79,490.80 L705.47,491.42 L705.14,492.03 L704.78,492.65 L704.38,493.27 L703.95,493.92 L703.47,494.59 L702.97,495.27 L702.44,495.95 L701.90,496.61 L701.36,497.26 L700.81,497.87 L700.29,498.45 L699.76,498.98 L699.22,499.50 L698.66,500.00 L698.10,500.49 L697.54,500.95 L697.00,501.39 L696.47,501.81 L695.99,502.18 L695.56,502.51 L695.13,502.81 L694.71,503.08 L694.31,503.33 L693.93,503.56 L693.59,503.76 L693.28,503.94 L693.04,504.09 L694.76,506.91 L694.98,506.77 L695.26,506.61 L695.62,506.40 L696.03,506.16 L696.49,505.87 L696.98,505.55 L697.49,505.20 L698.01,504.82 L698.52,504.42 L699.07,504.00 L699.64,503.53 L700.25,503.04 L700.87,502.51 L701.49,501.95 L702.11,501.36 L702.71,500.75 L703.30,500.12 L703.89,499.46 L704.48,498.76 L705.07,498.05 L705.64,497.32 L706.20,496.58 L706.72,495.85 L707.22,495.13 L707.67,494.41 L708.08,493.71 L708.47,493.01 L708.83,492.32 L709.16,491.62 L709.46,490.89 L709.75,490.16 L710.06,489.40 L710.36,488.63 L710.68,487.85 L711.00,487.05 L711.31,486.21 L711.62,485.33 L711.92,484.40 L712.20,483.40 L712.46,482.33 L712.70,481.11 L712.93,479.72 L713.14,478.25 L713.33,476.76 L713.51,475.32 L713.66,474.03 L713.79,472.94 L713.89,472.15 Z" fill="#000" stroke="none"/><path d="M654.7,506.5 L694.1,505.9 L693.8,516.3 L655.3,517.7 Z" fill="#fff" stroke="#000" stroke-width="3" stroke-linejoin="miter"/></g>
<g><path d="M657.5,509 L691.5,508.5" fill="none" stroke="#222" stroke-width="0.8" stroke-dasharray="2 1.2"/></g>
<g transform="matrix(-1 0 0 1 1670 0)"><path d="M657.5,509 L691.5,508.5" fill="none" stroke="#222" stroke-width="0.8" stroke-dasharray="2 1.2"/></g>
<path d="M720,154 L786.0,121.5 C787.5,122.0 791.8,123.7 795.0,124.6 C798.2,125.5 800.8,126.1 805.0,126.8 C809.2,127.5 815.0,128.3 820.0,128.8 C825.0,129.3 830.0,129.6 835.0,129.6 C840.0,129.6 845.0,129.3 850.0,128.8 C855.0,128.3 860.8,127.5 865.0,126.8 C869.2,126.1 871.8,125.5 875.0,124.6 C878.2,123.7 882.5,122.0 884.0,121.5 L950,154" fill="none" stroke="#000" stroke-width="3.6" stroke-linejoin="miter" stroke-miterlimit="6" stroke-linecap="round"/>
<path d="M712,475.5 L711.5,528 L711.5,528.0 C717.9,528.9 738.6,532.1 750.0,533.5 C761.4,534.9 770.0,535.8 780.0,536.5 C790.0,537.2 800.8,537.3 810.0,537.5 C819.2,537.7 826.7,537.7 835.0,537.7 C843.3,537.7 850.8,537.7 860.0,537.5 C869.2,537.3 880.0,537.2 890.0,536.5 C900.0,535.8 908.6,534.9 920.0,533.5 C931.4,532.1 952.1,528.9 958.5,528.0 L958,475.5" fill="none" stroke="#000" stroke-width="3.5" stroke-linejoin="miter" stroke-linecap="butt"/>
<path d="M839,160 L839.3,536" stroke="#9c9c9c" stroke-width="1.9" stroke-dasharray="1.8 1.3" fill="none"/>
<path d="M840.4,160 L840.9,536" stroke="#333" stroke-width="0.8" fill="none"/>
<g stroke="#222" fill="#fff" stroke-width="0.8"><circle cx="835" cy="154" r="3"/><path d="M833.4,154 h3.2 M835,152.4 v3.2" fill="none" stroke-width="0.7"/><path d="M835,157.2 v3.4" stroke-width="1.3" fill="none"/></g>
<g stroke="#222" fill="#fff" stroke-width="0.8"><circle cx="835" cy="204.5" r="3"/><path d="M833.4,204.5 h3.2 M835,202.9 v3.2" fill="none" stroke-width="0.7"/><path d="M835,207.7 v3.4" stroke-width="1.3" fill="none"/></g>
<g stroke="#222" fill="#fff" stroke-width="0.8"><circle cx="835" cy="254.5" r="3"/><path d="M833.4,254.5 h3.2 M835,252.9 v3.2" fill="none" stroke-width="0.7"/><path d="M835,257.7 v3.4" stroke-width="1.3" fill="none"/></g>
<g stroke="#222" fill="#fff" stroke-width="0.8"><circle cx="835" cy="305" r="3"/><path d="M833.4,305 h3.2 M835,303.4 v3.2" fill="none" stroke-width="0.7"/><path d="M835,308.2 v3.4" stroke-width="1.3" fill="none"/></g>
<g stroke="#222" fill="#fff" stroke-width="0.8"><circle cx="835" cy="355.5" r="3"/><path d="M833.4,355.5 h3.2 M835,353.9 v3.2" fill="none" stroke-width="0.7"/><path d="M835,358.7 v3.4" stroke-width="1.3" fill="none"/></g>
<g stroke="#222" fill="#fff" stroke-width="0.8"><circle cx="835" cy="405.5" r="3"/><path d="M833.4,405.5 h3.2 M835,403.9 v3.2" fill="none" stroke-width="0.7"/><path d="M835,408.7 v3.4" stroke-width="1.3" fill="none"/></g>
<g stroke="#222" fill="#fff" stroke-width="0.8"><circle cx="835" cy="455.5" r="3"/><path d="M833.4,455.5 h3.2 M835,453.9 v3.2" fill="none" stroke-width="0.7"/><path d="M835,458.7 v3.4" stroke-width="1.3" fill="none"/></g>
<path d="M719.5,149.4 L949.5,149.4 M739.5,256.5 L930.5,256.5 M731.5,323.2 L938.5,323.2" stroke="#ee0000" stroke-width="3.2" fill="none"/>
<path d="M841.4,131 L842.6,538" stroke="#ee0000" stroke-width="3.5" fill="none"/>
<path d="M719.5,145.20000000000002 L719.5,153.6" stroke="#ee0000" stroke-width="3" stroke-linecap="round" fill="none"/>
<path d="M949.5,145.20000000000002 L949.5,153.6" stroke="#ee0000" stroke-width="3" stroke-linecap="round" fill="none"/>
<path d="M739.5,252.3 L739.5,260.7" stroke="#ee0000" stroke-width="3" stroke-linecap="round" fill="none"/>
<path d="M930.5,252.3 L930.5,260.7" stroke="#ee0000" stroke-width="3" stroke-linecap="round" fill="none"/>
<path d="M731.5,319.0 L731.5,327.4" stroke="#ee0000" stroke-width="3" stroke-linecap="round" fill="none"/>
<path d="M938.5,319.0 L938.5,327.4" stroke="#ee0000" stroke-width="3" stroke-linecap="round" fill="none"/>
<path d="M837.2,131 L845.6,131" stroke="#ee0000" stroke-width="3" stroke-linecap="round" fill="none"/>
<path d="M838.6,538 L847,538" stroke="#ee0000" stroke-width="3" stroke-linecap="round" fill="none"/>
<path d="M49,593.45 H1123 M49,655.95 H1123 M49,715 H1123 M49,779 H1123 M49,838 H1123 M49,897 H1123 M49,956 H1123 M49,1015 H1123 M49,1074.15 H1123 M50.50,592 V1075.6 M264.70,592 V1075.6 M478.90,592 V1075.6 M693.10,592 V1075.6 M907.30,592 V1075.6 M1121.50,592 V1075.6" stroke="#000" stroke-width="3" fill="none"/></svg>
<h1 class="t h1" style="left:430px;top:39.75px;width:340px;height:32.9px;font-size:32.9px;font-weight:700;color:#0d0d0d"><span style="left:11.15px;transform:scaleX(0.840);transform-origin:10.80px 50%">S</span><span style="left:46.98px;transform:scaleX(0.992);transform-origin:4.57px 50%">I</span><span style="left:69.24px;transform:scaleX(0.881);transform-origin:10.06px 50%">Z</span><span style="left:101.32px;transform:scaleX(0.840);transform-origin:11.43px 50%">E</span><span style="left:130.00px">&nbsp;</span><span style="left:155.10px;transform:scaleX(1.004);transform-origin:12.10px 50%">C</span><span style="left:194.28px;transform:scaleX(1.050);transform-origin:11.87px 50%">H</span><span style="left:231.84px;transform:scaleX(0.979);transform-origin:11.86px 50%">A</span><span style="left:267.91px;transform:scaleX(0.905);transform-origin:12.64px 50%">R</span><span style="left:304.19px;transform:scaleX(0.945);transform-origin:10.06px 50%">T</span></h1>
<div class="rule"></div>
<ul class="bul">
<li style="top:105.58px;letter-spacing:2.452px;left:92.76px;transform:scaleX(0.85);transform-origin:0 0"><i style="left:-29.42px;top:8.87px;width:10.12px"></i>ALL MEASUREMENTS IN INCHES</li>
<li style="top:137.68px;letter-spacing:2.893px;left:90.99px;transform:scaleX(0.85);transform-origin:0 0"><i style="left:-27.35px;top:8.62px;width:10.12px"></i>MATERIAL: COTTON CHIFFON BLEND</li>
<li style="top:169.68px;letter-spacing:2.344px;left:91.68px;transform:scaleX(0.85);transform-origin:0 0"><i style="left:-28.16px;top:8.52px;width:10.12px"></i>CUTTING: RELAXED FIT</li>
</ul>
<div class="t h2" style="left:56.91px;top:519.78px;font-size:25.3px;font-weight:700;letter-spacing:5.331px;color:#0d0d0d">PRODUCT MEASUREMENT</div>
<div class="t lab" style="left:992.16px;top:141.03px;font-size:15.2px;font-weight:700;letter-spacing:6.094px;color:#0d0d0d">SHOULDER</div>
<div class="t lab" style="left:1009.08px;top:245.03px;font-size:15.2px;font-weight:700;letter-spacing:6.343px;color:#0d0d0d">CHEST</div>
<div class="t lab" style="left:1017.39px;top:313.03px;font-size:15.2px;font-weight:700;letter-spacing:6.952px;color:#0d0d0d">WAIST</div>
<div class="t lab" style="left:853.76px;top:551.19px;font-size:15.6px;font-weight:700;letter-spacing:6.073px;color:#0d0d0d">LENGTH</div>
<div class="t foot" style="left:38.95px;top:1120.71px;font-size:18.3px;font-weight:700;letter-spacing:-0.549px;color:#5f5e58">*ALL MEASUREMENT IN <span class="red">INCH.</span> PLEASE ALLOW 1 - 2 INCHES DIFFERENCES DUE TO MANUAL</div>
<div class="t foot" style="left:37.58px;top:1148.21px;font-size:18.3px;font-weight:700;letter-spacing:0.304px;color:#5f5e58">MEASUREMENT AND DIFFERENT MEASURING TAPE.</div>
<div class="t logo" style="left:1020.45px;top:1140.33px;font-size:41.1px;letter-spacing:0.034px"><span style="color:#7f4f4e">Z</span><span style="color:#6b8b90">U</span><span style="color:#7a6c76">C</span><span style="color:#e8b08a">C</span><span style="color:#a6959f">A</span></div>
<table class="tbl"><colgroup><col><col><col><col><col></colgroup>
<tr style="height:62.50px"><th class="h">SIZE</th><th class="h">M</th><th class="h">L</th><th class="h">XL</th><th class="h">2XL</th></tr>
<tr style="height:59.05px"><th class="k" style="letter-spacing:-1.10px;padding-right:1.70px">BUST</th><td class="n">38'</td><td class="n">40'</td><td class="n">42'</td><td class="n">44'</td></tr>
<tr style="height:64.00px"><th class="k" style="letter-spacing:-1.28px;padding-right:1.88px">SHOULDER</th><td class="n">15.5'</td><td class="n">16'</td><td class="n">16.5'</td><td class="n">17'</td></tr>
<tr style="height:59.00px"><th class="k" style="letter-spacing:-0.72px;padding-right:1.32px">WAIST</th><td class="n">41'</td><td class="n">42'</td><td class="n">44'</td><td class="n">46'</td></tr>
<tr style="height:59.00px"><th class="k" style="letter-spacing:-0.34px;padding-right:0.94px">HIP</th><td class="n">44'</td><td class="n">46'</td><td class="n">47'</td><td class="n">49'</td></tr>
<tr style="height:59.00px"><th class="k" style="letter-spacing:-0.86px;padding-right:1.46px">LENGTH</th><td class="n">26.5'</td><td class="n">27'</td><td class="n">28'</td><td class="n">28'</td></tr>
<tr style="height:59.00px"><th class="k" style="letter-spacing:-1.14px;padding-right:1.74px">ARMHOLE</th><td class="n">18'</td><td class="n">19'</td><td class="n">19'</td><td class="n">19'</td></tr>
<tr style="height:59.15px"><th class="k" style="letter-spacing:-1.90px;padding-right:2.50px">SLEEVE</th><td class="n">22'</td><td class="n">22.5'</td><td class="n">22.5'</td><td class="n">22.5'</td></tr>
</table>
</body></html>
